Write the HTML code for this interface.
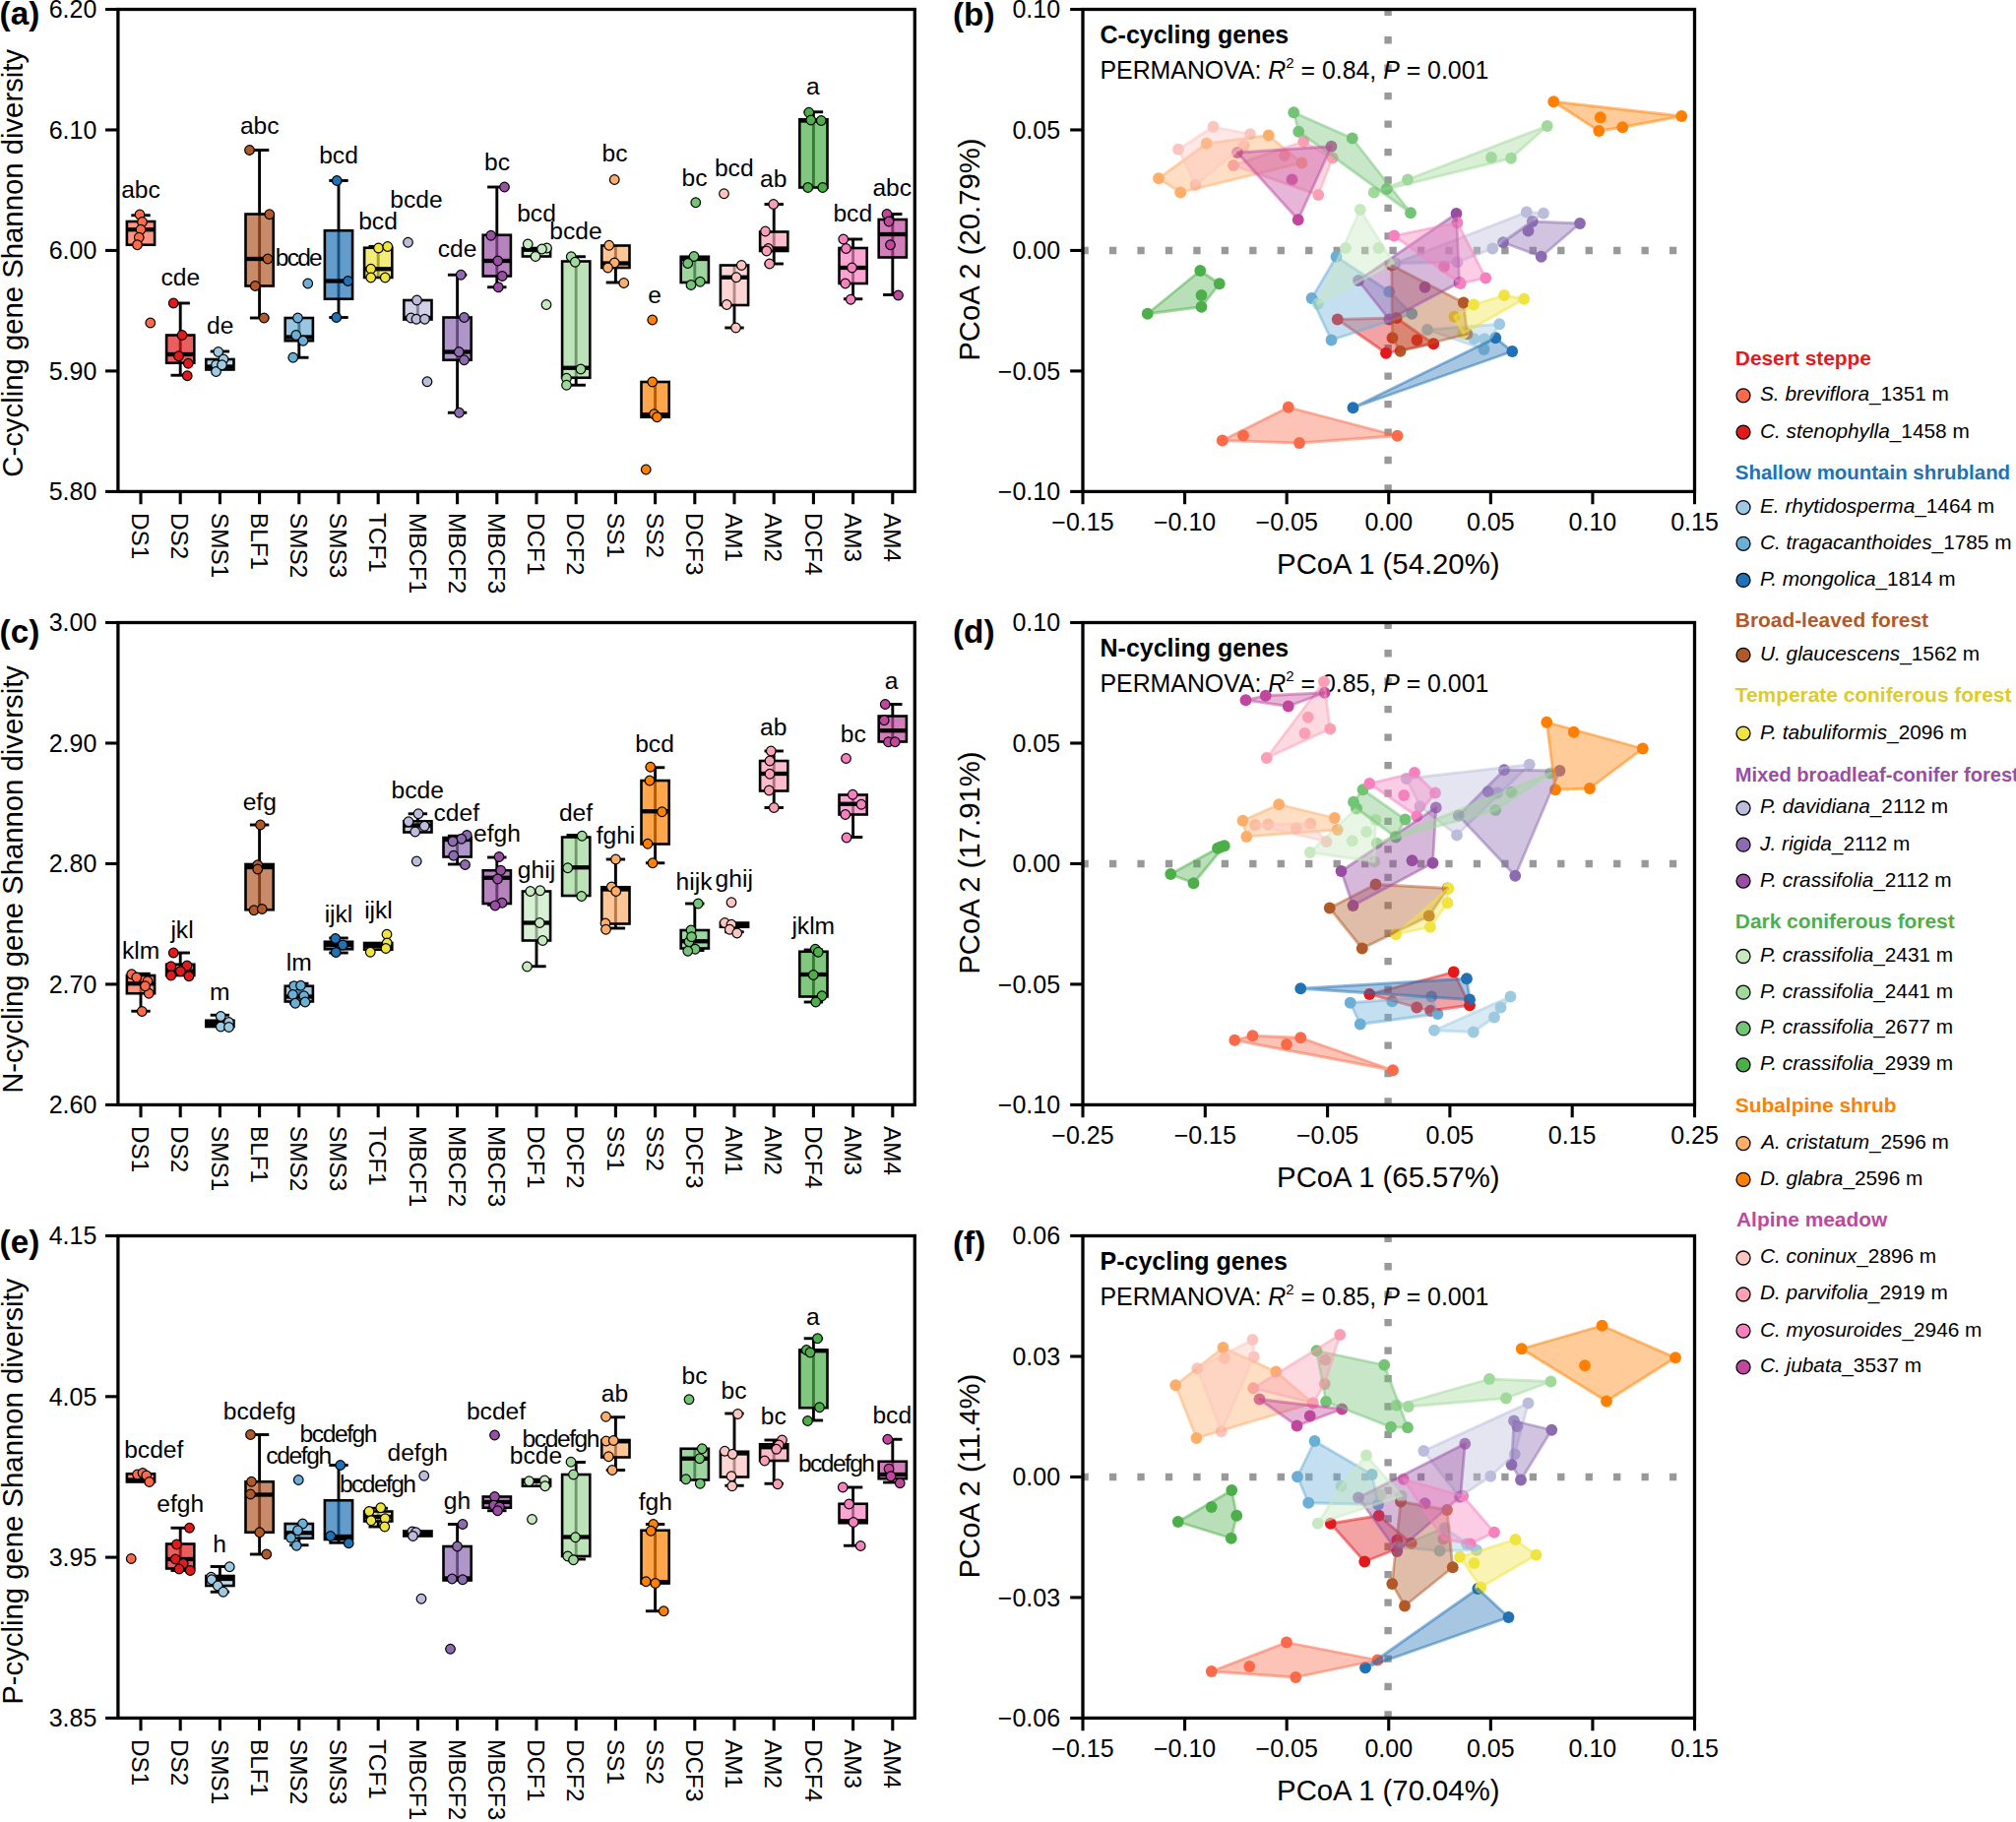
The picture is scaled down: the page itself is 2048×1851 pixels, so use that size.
<!DOCTYPE html>
<html><head><meta charset="utf-8"><title>Figure</title><style>html,body{margin:0;padding:0;background:#fff}svg{display:block}</style></head><body>
<svg width="2048" height="1851" viewBox="0 0 2048 1851" font-family="'Liberation Sans', Arial, Helvetica, sans-serif" fill="#000">
<rect width="2048" height="1851" fill="#fff"/>
<text transform="translate(23,267.3) rotate(-90)" font-size="29.3" text-anchor="middle">C-cycling gene Shannon diversity</text>
<text x="-0.4" y="25.3" font-size="33.3" font-weight="bold">(a)</text>
<line x1="107.05" x2="119.9" y1="9.5" y2="9.5" stroke="#000" stroke-width="3.1"/>
<text x="98.3" y="18.4" font-size="25" text-anchor="end">6.20</text>
<line x1="107.05" x2="119.9" y1="131.97" y2="131.97" stroke="#000" stroke-width="3.1"/>
<text x="98.3" y="140.88" font-size="25" text-anchor="end">6.10</text>
<line x1="107.05" x2="119.9" y1="254.45" y2="254.45" stroke="#000" stroke-width="3.1"/>
<text x="98.3" y="263.35" font-size="25" text-anchor="end">6.00</text>
<line x1="107.05" x2="119.9" y1="376.92" y2="376.92" stroke="#000" stroke-width="3.1"/>
<text x="98.3" y="385.82" font-size="25" text-anchor="end">5.90</text>
<line x1="107.05" x2="119.9" y1="499.4" y2="499.4" stroke="#000" stroke-width="3.1"/>
<text x="98.3" y="508.3" font-size="25" text-anchor="end">5.80</text>
<line x1="143" x2="143" y1="499.4" y2="512.25" stroke="#000" stroke-width="3.1"/>
<text transform="translate(134.2,521) rotate(90)" font-size="24.3">DS1</text>
<line x1="183.2" x2="183.2" y1="499.4" y2="512.25" stroke="#000" stroke-width="3.1"/>
<text transform="translate(174.4,521) rotate(90)" font-size="24.3">DS2</text>
<line x1="223.4" x2="223.4" y1="499.4" y2="512.25" stroke="#000" stroke-width="3.1"/>
<text transform="translate(214.6,521) rotate(90)" font-size="24.3">SMS1</text>
<line x1="263.6" x2="263.6" y1="499.4" y2="512.25" stroke="#000" stroke-width="3.1"/>
<text transform="translate(254.8,521) rotate(90)" font-size="24.3">BLF1</text>
<line x1="303.8" x2="303.8" y1="499.4" y2="512.25" stroke="#000" stroke-width="3.1"/>
<text transform="translate(295,521) rotate(90)" font-size="24.3">SMS2</text>
<line x1="344" x2="344" y1="499.4" y2="512.25" stroke="#000" stroke-width="3.1"/>
<text transform="translate(335.2,521) rotate(90)" font-size="24.3">SMS3</text>
<line x1="384.2" x2="384.2" y1="499.4" y2="512.25" stroke="#000" stroke-width="3.1"/>
<text transform="translate(375.4,521) rotate(90)" font-size="24.3">TCF1</text>
<line x1="424.4" x2="424.4" y1="499.4" y2="512.25" stroke="#000" stroke-width="3.1"/>
<text transform="translate(415.6,521) rotate(90)" font-size="24.3">MBCF1</text>
<line x1="464.6" x2="464.6" y1="499.4" y2="512.25" stroke="#000" stroke-width="3.1"/>
<text transform="translate(455.8,521) rotate(90)" font-size="24.3">MBCF2</text>
<line x1="504.8" x2="504.8" y1="499.4" y2="512.25" stroke="#000" stroke-width="3.1"/>
<text transform="translate(496,521) rotate(90)" font-size="24.3">MBCF3</text>
<line x1="545" x2="545" y1="499.4" y2="512.25" stroke="#000" stroke-width="3.1"/>
<text transform="translate(536.2,521) rotate(90)" font-size="24.3">DCF1</text>
<line x1="585.2" x2="585.2" y1="499.4" y2="512.25" stroke="#000" stroke-width="3.1"/>
<text transform="translate(576.4,521) rotate(90)" font-size="24.3">DCF2</text>
<line x1="625.4" x2="625.4" y1="499.4" y2="512.25" stroke="#000" stroke-width="3.1"/>
<text transform="translate(616.6,521) rotate(90)" font-size="24.3">SS1</text>
<line x1="665.6" x2="665.6" y1="499.4" y2="512.25" stroke="#000" stroke-width="3.1"/>
<text transform="translate(656.8,521) rotate(90)" font-size="24.3">SS2</text>
<line x1="705.8" x2="705.8" y1="499.4" y2="512.25" stroke="#000" stroke-width="3.1"/>
<text transform="translate(697,521) rotate(90)" font-size="24.3">DCF3</text>
<line x1="746" x2="746" y1="499.4" y2="512.25" stroke="#000" stroke-width="3.1"/>
<text transform="translate(737.2,521) rotate(90)" font-size="24.3">AM1</text>
<line x1="786.2" x2="786.2" y1="499.4" y2="512.25" stroke="#000" stroke-width="3.1"/>
<text transform="translate(777.4,521) rotate(90)" font-size="24.3">AM2</text>
<line x1="826.4" x2="826.4" y1="499.4" y2="512.25" stroke="#000" stroke-width="3.1"/>
<text transform="translate(817.6,521) rotate(90)" font-size="24.3">DCF4</text>
<line x1="866.6" x2="866.6" y1="499.4" y2="512.25" stroke="#000" stroke-width="3.1"/>
<text transform="translate(857.8,521) rotate(90)" font-size="24.3">AM3</text>
<line x1="906.8" x2="906.8" y1="499.4" y2="512.25" stroke="#000" stroke-width="3.1"/>
<text transform="translate(898,521) rotate(90)" font-size="24.3">AM4</text>
<path d="M143 218.75V248.75" stroke="#000" stroke-width="2.9" fill="none"/>
<path d="M133.3 218.75H152.7" stroke="#000" stroke-width="2.9" fill="none"/>
<rect x="128.9" y="225" width="28.2" height="23.75" fill="#FB6A4A" fill-opacity="0.7" stroke="#000" stroke-width="2.6"/>
<path d="M128.9 233.25H157.1" stroke="#000" stroke-width="4.3" fill="none"/>
<circle cx="142" cy="218" r="4.8" fill="#FB6A4A" stroke="#000" stroke-width="1.2"/>
<circle cx="144.5" cy="225.5" r="4.8" fill="#FB6A4A" stroke="#000" stroke-width="1.2"/>
<circle cx="143" cy="233.25" r="4.8" fill="#FB6A4A" stroke="#000" stroke-width="1.2"/>
<circle cx="141.25" cy="241.25" r="4.8" fill="#FB6A4A" stroke="#000" stroke-width="1.2"/>
<circle cx="139.5" cy="248.75" r="4.8" fill="#FB6A4A" stroke="#000" stroke-width="1.2"/>
<circle cx="152.75" cy="328" r="4.8" fill="#FB6A4A" stroke="#000" stroke-width="1.2"/>
<text x="143" y="201.25" font-size="24.6" text-anchor="middle">abc</text>
<path d="M183.2 308V381.25" stroke="#000" stroke-width="2.9" fill="none"/>
<path d="M173.5 308H192.9" stroke="#000" stroke-width="2.9" fill="none"/>
<path d="M173.5 381.25H192.9" stroke="#000" stroke-width="2.9" fill="none"/>
<rect x="169.1" y="340.5" width="28.2" height="28.25" fill="#E31A1C" fill-opacity="0.7" stroke="#000" stroke-width="2.6"/>
<path d="M169.1 360H197.3" stroke="#000" stroke-width="4.3" fill="none"/>
<circle cx="176.25" cy="308" r="4.8" fill="#E31A1C" stroke="#000" stroke-width="1.2"/>
<circle cx="185" cy="340.5" r="4.8" fill="#E31A1C" stroke="#000" stroke-width="1.2"/>
<circle cx="181.5" cy="361.75" r="4.8" fill="#E31A1C" stroke="#000" stroke-width="1.2"/>
<circle cx="191.25" cy="369.25" r="4.8" fill="#E31A1C" stroke="#000" stroke-width="1.2"/>
<circle cx="190.25" cy="381.75" r="4.8" fill="#E31A1C" stroke="#000" stroke-width="1.2"/>
<text x="183.25" y="290" font-size="24.6" text-anchor="middle">cde</text>
<path d="M223.4 357V375.5" stroke="#000" stroke-width="2.9" fill="none"/>
<path d="M213.7 357H233.1" stroke="#000" stroke-width="2.9" fill="none"/>
<rect x="209.3" y="365" width="28.2" height="10.5" fill="#9ECAE1" fill-opacity="0.7" stroke="#000" stroke-width="2.6"/>
<path d="M209.3 372.5H237.5" stroke="#000" stroke-width="4.3" fill="none"/>
<circle cx="221.75" cy="357.5" r="4.8" fill="#9ECAE1" stroke="#000" stroke-width="1.2"/>
<circle cx="227" cy="365" r="4.8" fill="#9ECAE1" stroke="#000" stroke-width="1.2"/>
<circle cx="219.5" cy="370.75" r="4.8" fill="#9ECAE1" stroke="#000" stroke-width="1.2"/>
<circle cx="219.5" cy="377.5" r="4.8" fill="#9ECAE1" stroke="#000" stroke-width="1.2"/>
<circle cx="225.5" cy="370.75" r="4.8" fill="#9ECAE1" stroke="#000" stroke-width="1.2"/>
<text x="223.75" y="338.75" font-size="24.6" text-anchor="middle">de</text>
<path d="M263.6 152.5V323" stroke="#000" stroke-width="2.9" fill="none"/>
<path d="M253.9 152.5H273.3" stroke="#000" stroke-width="2.9" fill="none"/>
<path d="M253.9 323H273.3" stroke="#000" stroke-width="2.9" fill="none"/>
<rect x="249.5" y="217.5" width="28.2" height="73" fill="#B15928" fill-opacity="0.7" stroke="#000" stroke-width="2.6"/>
<path d="M249.5 263H277.7" stroke="#000" stroke-width="4.3" fill="none"/>
<circle cx="253.5" cy="152.5" r="4.8" fill="#B15928" stroke="#000" stroke-width="1.2"/>
<circle cx="273.75" cy="217.75" r="4.8" fill="#B15928" stroke="#000" stroke-width="1.2"/>
<circle cx="272" cy="263" r="4.8" fill="#B15928" stroke="#000" stroke-width="1.2"/>
<circle cx="259.25" cy="290.5" r="4.8" fill="#B15928" stroke="#000" stroke-width="1.2"/>
<circle cx="268.25" cy="323" r="4.8" fill="#B15928" stroke="#000" stroke-width="1.2"/>
<text x="263.75" y="135.5" font-size="24.6" text-anchor="middle">abc</text>
<path d="M303.8 323V363.25" stroke="#000" stroke-width="2.9" fill="none"/>
<path d="M294.1 363.25H313.5" stroke="#000" stroke-width="2.9" fill="none"/>
<rect x="289.7" y="323" width="28.2" height="23.25" fill="#6BAED6" fill-opacity="0.7" stroke="#000" stroke-width="2.6"/>
<path d="M289.7 342.5H317.9" stroke="#000" stroke-width="4.3" fill="none"/>
<circle cx="312.75" cy="288" r="4.8" fill="#6BAED6" stroke="#000" stroke-width="1.2"/>
<circle cx="302.5" cy="323" r="4.8" fill="#6BAED6" stroke="#000" stroke-width="1.2"/>
<circle cx="300.75" cy="340.5" r="4.8" fill="#6BAED6" stroke="#000" stroke-width="1.2"/>
<circle cx="308" cy="346.25" r="4.8" fill="#6BAED6" stroke="#000" stroke-width="1.2"/>
<circle cx="297.75" cy="363.25" r="4.8" fill="#6BAED6" stroke="#000" stroke-width="1.2"/>
<text x="303.75" y="270" font-size="24.6" text-anchor="middle" textLength="48" lengthAdjust="spacing">bcde</text>
<path d="M344 183.5V322.5" stroke="#000" stroke-width="2.9" fill="none"/>
<path d="M334.3 183.5H353.7" stroke="#000" stroke-width="2.9" fill="none"/>
<path d="M334.3 322.5H353.7" stroke="#000" stroke-width="2.9" fill="none"/>
<rect x="329.9" y="234.25" width="28.2" height="69.5" fill="#2171B5" fill-opacity="0.7" stroke="#000" stroke-width="2.6"/>
<path d="M329.9 285.5H358.1" stroke="#000" stroke-width="4.3" fill="none"/>
<circle cx="342.25" cy="183.5" r="4.8" fill="#2171B5" stroke="#000" stroke-width="1.2"/>
<circle cx="353.5" cy="285.5" r="4.8" fill="#2171B5" stroke="#000" stroke-width="1.2"/>
<circle cx="341.75" cy="322.5" r="4.8" fill="#2171B5" stroke="#000" stroke-width="1.2"/>
<text x="344" y="166.25" font-size="24.6" text-anchor="middle">bcd</text>
<path d="M384.2 250.5V282" stroke="#000" stroke-width="2.9" fill="none"/>
<path d="M374.5 250.5H393.9" stroke="#000" stroke-width="2.9" fill="none"/>
<rect x="370.1" y="251.75" width="28.2" height="30.25" fill="#F0E442" fill-opacity="0.7" stroke="#000" stroke-width="2.6"/>
<path d="M370.1 273.25H398.3" stroke="#000" stroke-width="4.3" fill="none"/>
<circle cx="384.5" cy="252" r="4.8" fill="#F0E442" stroke="#000" stroke-width="1.2"/>
<circle cx="393.75" cy="250.5" r="4.8" fill="#F0E442" stroke="#000" stroke-width="1.2"/>
<circle cx="376.75" cy="273.25" r="4.8" fill="#F0E442" stroke="#000" stroke-width="1.2"/>
<circle cx="376.75" cy="282" r="4.8" fill="#F0E442" stroke="#000" stroke-width="1.2"/>
<circle cx="391.25" cy="282" r="4.8" fill="#F0E442" stroke="#000" stroke-width="1.2"/>
<text x="384" y="232.5" font-size="24.6" text-anchor="middle">bcd</text>
<path d="M424.4 305V324.5" stroke="#000" stroke-width="2.9" fill="none"/>
<rect x="410.3" y="305" width="28.2" height="19.5" fill="#BCBDDC" fill-opacity="0.7" stroke="#000" stroke-width="2.6"/>
<path d="M410.3 323H438.5" stroke="#000" stroke-width="4.3" fill="none"/>
<circle cx="414.5" cy="246.25" r="4.8" fill="#BCBDDC" stroke="#000" stroke-width="1.2"/>
<circle cx="423.5" cy="305" r="4.8" fill="#BCBDDC" stroke="#000" stroke-width="1.2"/>
<circle cx="417.5" cy="323" r="4.8" fill="#BCBDDC" stroke="#000" stroke-width="1.2"/>
<circle cx="423" cy="324.25" r="4.8" fill="#BCBDDC" stroke="#000" stroke-width="1.2"/>
<circle cx="431.5" cy="324.25" r="4.8" fill="#BCBDDC" stroke="#000" stroke-width="1.2"/>
<circle cx="434" cy="387.75" r="4.8" fill="#BCBDDC" stroke="#000" stroke-width="1.2"/>
<text x="423" y="210.5" font-size="24.6" text-anchor="middle">bcde</text>
<path d="M464.6 279.25V419.25" stroke="#000" stroke-width="2.9" fill="none"/>
<path d="M454.9 279.25H474.3" stroke="#000" stroke-width="2.9" fill="none"/>
<path d="M454.9 419.25H474.3" stroke="#000" stroke-width="2.9" fill="none"/>
<rect x="450.5" y="322.5" width="28.2" height="43.25" fill="#8C6BB1" fill-opacity="0.7" stroke="#000" stroke-width="2.6"/>
<path d="M450.5 357.5H478.7" stroke="#000" stroke-width="4.3" fill="none"/>
<circle cx="468.25" cy="279.25" r="4.8" fill="#8C6BB1" stroke="#000" stroke-width="1.2"/>
<circle cx="471.5" cy="322.5" r="4.8" fill="#8C6BB1" stroke="#000" stroke-width="1.2"/>
<circle cx="466.25" cy="357.5" r="4.8" fill="#8C6BB1" stroke="#000" stroke-width="1.2"/>
<circle cx="471.5" cy="365.75" r="4.8" fill="#8C6BB1" stroke="#000" stroke-width="1.2"/>
<circle cx="466.5" cy="419.25" r="4.8" fill="#8C6BB1" stroke="#000" stroke-width="1.2"/>
<text x="464.5" y="261.25" font-size="24.6" text-anchor="middle">cde</text>
<path d="M504.8 190V291.75" stroke="#000" stroke-width="2.9" fill="none"/>
<path d="M495.1 190H514.5" stroke="#000" stroke-width="2.9" fill="none"/>
<path d="M495.1 291.75H514.5" stroke="#000" stroke-width="2.9" fill="none"/>
<rect x="490.7" y="238.75" width="28.2" height="41.75" fill="#984EA3" fill-opacity="0.7" stroke="#000" stroke-width="2.6"/>
<path d="M490.7 265H518.9" stroke="#000" stroke-width="4.3" fill="none"/>
<circle cx="512.5" cy="190" r="4.8" fill="#984EA3" stroke="#000" stroke-width="1.2"/>
<circle cx="498.75" cy="239.25" r="4.8" fill="#984EA3" stroke="#000" stroke-width="1.2"/>
<circle cx="505.75" cy="265" r="4.8" fill="#984EA3" stroke="#000" stroke-width="1.2"/>
<circle cx="510.25" cy="280.5" r="4.8" fill="#984EA3" stroke="#000" stroke-width="1.2"/>
<circle cx="506.25" cy="291.75" r="4.8" fill="#984EA3" stroke="#000" stroke-width="1.2"/>
<text x="505" y="172.5" font-size="24.6" text-anchor="middle">bc</text>
<path d="M545 252V260.5" stroke="#000" stroke-width="2.9" fill="none"/>
<rect x="530.9" y="252" width="28.2" height="8.5" fill="#C7E9C0" fill-opacity="0.7" stroke="#000" stroke-width="2.6"/>
<path d="M530.9 253.75H559.1" stroke="#000" stroke-width="4.3" fill="none"/>
<circle cx="536.25" cy="248" r="4.8" fill="#C7E9C0" stroke="#000" stroke-width="1.2"/>
<circle cx="555.5" cy="252" r="4.8" fill="#C7E9C0" stroke="#000" stroke-width="1.2"/>
<circle cx="550.5" cy="253" r="4.8" fill="#C7E9C0" stroke="#000" stroke-width="1.2"/>
<circle cx="544" cy="260.5" r="4.8" fill="#C7E9C0" stroke="#000" stroke-width="1.2"/>
<circle cx="555" cy="309.5" r="4.8" fill="#C7E9C0" stroke="#000" stroke-width="1.2"/>
<text x="545" y="224.5" font-size="24.6" text-anchor="middle">bcd</text>
<path d="M585.2 260.75V391.25" stroke="#000" stroke-width="2.9" fill="none"/>
<path d="M575.5 260.75H594.9" stroke="#000" stroke-width="2.9" fill="none"/>
<path d="M575.5 391.25H594.9" stroke="#000" stroke-width="2.9" fill="none"/>
<rect x="571.1" y="265.5" width="28.2" height="118.25" fill="#A1D99B" fill-opacity="0.7" stroke="#000" stroke-width="2.6"/>
<path d="M571.1 373.75H599.3" stroke="#000" stroke-width="4.3" fill="none"/>
<circle cx="580.25" cy="260.75" r="4.8" fill="#A1D99B" stroke="#000" stroke-width="1.2"/>
<circle cx="584.25" cy="266.25" r="4.8" fill="#A1D99B" stroke="#000" stroke-width="1.2"/>
<circle cx="590" cy="375" r="4.8" fill="#A1D99B" stroke="#000" stroke-width="1.2"/>
<circle cx="575.5" cy="384.25" r="4.8" fill="#A1D99B" stroke="#000" stroke-width="1.2"/>
<circle cx="575.5" cy="391.25" r="4.8" fill="#A1D99B" stroke="#000" stroke-width="1.2"/>
<text x="585" y="243" font-size="24.6" text-anchor="middle">bcde</text>
<path d="M625.4 249.5V287" stroke="#000" stroke-width="2.9" fill="none"/>
<path d="M615.7 287H635.1" stroke="#000" stroke-width="2.9" fill="none"/>
<rect x="611.3" y="249.5" width="28.2" height="22.5" fill="#FDAE6B" fill-opacity="0.7" stroke="#000" stroke-width="2.6"/>
<path d="M611.3 267.5H639.5" stroke="#000" stroke-width="4.3" fill="none"/>
<circle cx="624.25" cy="182.5" r="4.8" fill="#FDAE6B" stroke="#000" stroke-width="1.2"/>
<circle cx="618.75" cy="249.25" r="4.8" fill="#FDAE6B" stroke="#000" stroke-width="1.2"/>
<circle cx="624.25" cy="267" r="4.8" fill="#FDAE6B" stroke="#000" stroke-width="1.2"/>
<circle cx="617.5" cy="272" r="4.8" fill="#FDAE6B" stroke="#000" stroke-width="1.2"/>
<circle cx="633.75" cy="287.5" r="4.8" fill="#FDAE6B" stroke="#000" stroke-width="1.2"/>
<text x="624.5" y="164.25" font-size="24.6" text-anchor="middle">bc</text>
<path d="M665.6 388V423.75" stroke="#000" stroke-width="2.9" fill="none"/>
<rect x="651.5" y="388" width="28.2" height="35.75" fill="#FF7F00" fill-opacity="0.7" stroke="#000" stroke-width="2.6"/>
<path d="M651.5 421.25H679.7" stroke="#000" stroke-width="4.3" fill="none"/>
<circle cx="662.75" cy="325" r="4.8" fill="#FF7F00" stroke="#000" stroke-width="1.2"/>
<circle cx="662.75" cy="388" r="4.8" fill="#FF7F00" stroke="#000" stroke-width="1.2"/>
<circle cx="664.5" cy="420.75" r="4.8" fill="#FF7F00" stroke="#000" stroke-width="1.2"/>
<circle cx="667.5" cy="423.75" r="4.8" fill="#FF7F00" stroke="#000" stroke-width="1.2"/>
<circle cx="656.25" cy="477" r="4.8" fill="#FF7F00" stroke="#000" stroke-width="1.2"/>
<text x="665" y="307.5" font-size="24.6" text-anchor="middle">e</text>
<path d="M705.8 260.75V287" stroke="#000" stroke-width="2.9" fill="none"/>
<rect x="691.7" y="260.75" width="28.2" height="26.25" fill="#74C476" fill-opacity="0.7" stroke="#000" stroke-width="2.6"/>
<path d="M691.7 263H719.9" stroke="#000" stroke-width="4.3" fill="none"/>
<circle cx="706.75" cy="205.75" r="4.8" fill="#74C476" stroke="#000" stroke-width="1.2"/>
<circle cx="705" cy="260.5" r="4.8" fill="#74C476" stroke="#000" stroke-width="1.2"/>
<circle cx="698.75" cy="267.5" r="4.8" fill="#74C476" stroke="#000" stroke-width="1.2"/>
<circle cx="711.25" cy="286.25" r="4.8" fill="#74C476" stroke="#000" stroke-width="1.2"/>
<circle cx="702" cy="289.5" r="4.8" fill="#74C476" stroke="#000" stroke-width="1.2"/>
<text x="705.5" y="188.75" font-size="24.6" text-anchor="middle">bc</text>
<path d="M746 269.5V333" stroke="#000" stroke-width="2.9" fill="none"/>
<path d="M736.3 333H755.7" stroke="#000" stroke-width="2.9" fill="none"/>
<rect x="731.9" y="269.5" width="28.2" height="40.5" fill="#FCC5C0" fill-opacity="0.7" stroke="#000" stroke-width="2.6"/>
<path d="M731.9 281.75H760.1" stroke="#000" stroke-width="4.3" fill="none"/>
<circle cx="735.5" cy="196.75" r="4.8" fill="#FCC5C0" stroke="#000" stroke-width="1.2"/>
<circle cx="753.25" cy="269.5" r="4.8" fill="#FCC5C0" stroke="#000" stroke-width="1.2"/>
<circle cx="748" cy="281.75" r="4.8" fill="#FCC5C0" stroke="#000" stroke-width="1.2"/>
<circle cx="738.25" cy="309.5" r="4.8" fill="#FCC5C0" stroke="#000" stroke-width="1.2"/>
<circle cx="747.5" cy="333" r="4.8" fill="#FCC5C0" stroke="#000" stroke-width="1.2"/>
<text x="745.75" y="178.75" font-size="24.6" text-anchor="middle">bcd</text>
<path d="M786.2 207.5V268" stroke="#000" stroke-width="2.9" fill="none"/>
<path d="M776.5 207.5H795.9" stroke="#000" stroke-width="2.9" fill="none"/>
<path d="M776.5 268H795.9" stroke="#000" stroke-width="2.9" fill="none"/>
<rect x="772.1" y="235.5" width="28.2" height="19.5" fill="#FA9FB5" fill-opacity="0.7" stroke="#000" stroke-width="2.6"/>
<path d="M772.1 252.5H800.3" stroke="#000" stroke-width="4.3" fill="none"/>
<circle cx="785.75" cy="207.5" r="4.8" fill="#FA9FB5" stroke="#000" stroke-width="1.2"/>
<circle cx="777.5" cy="235" r="4.8" fill="#FA9FB5" stroke="#000" stroke-width="1.2"/>
<circle cx="780.5" cy="252.5" r="4.8" fill="#FA9FB5" stroke="#000" stroke-width="1.2"/>
<circle cx="778.75" cy="255" r="4.8" fill="#FA9FB5" stroke="#000" stroke-width="1.2"/>
<circle cx="781.75" cy="268" r="4.8" fill="#FA9FB5" stroke="#000" stroke-width="1.2"/>
<text x="785.75" y="190" font-size="24.6" text-anchor="middle">ab</text>
<path d="M826.4 113.75V190.5" stroke="#000" stroke-width="2.9" fill="none"/>
<path d="M816.7 113.75H836.1" stroke="#000" stroke-width="2.9" fill="none"/>
<rect x="812.3" y="121.25" width="28.2" height="69.25" fill="#4DAF4A" fill-opacity="0.7" stroke="#000" stroke-width="2.6"/>
<path d="M812.3 122.5H840.5" stroke="#000" stroke-width="4.3" fill="none"/>
<circle cx="821.75" cy="114.25" r="4.8" fill="#4DAF4A" stroke="#000" stroke-width="1.2"/>
<circle cx="823.75" cy="122" r="4.8" fill="#4DAF4A" stroke="#000" stroke-width="1.2"/>
<circle cx="834.25" cy="122.5" r="4.8" fill="#4DAF4A" stroke="#000" stroke-width="1.2"/>
<circle cx="820.75" cy="190.5" r="4.8" fill="#4DAF4A" stroke="#000" stroke-width="1.2"/>
<circle cx="835.75" cy="190.5" r="4.8" fill="#4DAF4A" stroke="#000" stroke-width="1.2"/>
<text x="825.75" y="96.25" font-size="24.6" text-anchor="middle">a</text>
<path d="M866.6 243V303.75" stroke="#000" stroke-width="2.9" fill="none"/>
<path d="M856.9 243H876.3" stroke="#000" stroke-width="2.9" fill="none"/>
<path d="M856.9 303.75H876.3" stroke="#000" stroke-width="2.9" fill="none"/>
<rect x="852.5" y="252" width="28.2" height="36" fill="#F781BF" fill-opacity="0.7" stroke="#000" stroke-width="2.6"/>
<path d="M852.5 272H880.7" stroke="#000" stroke-width="4.3" fill="none"/>
<circle cx="856.75" cy="243" r="4.8" fill="#F781BF" stroke="#000" stroke-width="1.2"/>
<circle cx="859.5" cy="252.5" r="4.8" fill="#F781BF" stroke="#000" stroke-width="1.2"/>
<circle cx="865.5" cy="272" r="4.8" fill="#F781BF" stroke="#000" stroke-width="1.2"/>
<circle cx="858.75" cy="288" r="4.8" fill="#F781BF" stroke="#000" stroke-width="1.2"/>
<circle cx="864.25" cy="304.25" r="4.8" fill="#F781BF" stroke="#000" stroke-width="1.2"/>
<text x="866.25" y="225" font-size="24.6" text-anchor="middle">bcd</text>
<path d="M906.8 217.5V299.5" stroke="#000" stroke-width="2.9" fill="none"/>
<path d="M897.1 217.5H916.5" stroke="#000" stroke-width="2.9" fill="none"/>
<path d="M897.1 299.5H916.5" stroke="#000" stroke-width="2.9" fill="none"/>
<rect x="892.7" y="223" width="28.2" height="38.5" fill="#C0479D" fill-opacity="0.7" stroke="#000" stroke-width="2.6"/>
<path d="M892.7 238H920.9" stroke="#000" stroke-width="4.3" fill="none"/>
<circle cx="901" cy="217.5" r="4.8" fill="#C0479D" stroke="#000" stroke-width="1.2"/>
<circle cx="903" cy="225" r="4.8" fill="#C0479D" stroke="#000" stroke-width="1.2"/>
<circle cx="904.5" cy="248.75" r="4.8" fill="#C0479D" stroke="#000" stroke-width="1.2"/>
<circle cx="912.5" cy="300" r="4.8" fill="#C0479D" stroke="#000" stroke-width="1.2"/>
<text x="906.25" y="198.75" font-size="24.6" text-anchor="middle">abc</text>
<rect x="119.9" y="9.5" width="809.4" height="489.9" fill="none" stroke="#000" stroke-width="3.3"/>
<text transform="translate(23,893.4) rotate(-90)" font-size="29.3" text-anchor="middle">N-cycling gene Shannon diversity</text>
<text x="-0.4" y="653.4" font-size="33.3" font-weight="bold">(c)</text>
<line x1="107.05" x2="119.9" y1="632.5" y2="632.5" stroke="#000" stroke-width="3.1"/>
<text x="98.3" y="641.4" font-size="25" text-anchor="end">3.00</text>
<line x1="107.05" x2="119.9" y1="754.98" y2="754.98" stroke="#000" stroke-width="3.1"/>
<text x="98.3" y="763.88" font-size="25" text-anchor="end">2.90</text>
<line x1="107.05" x2="119.9" y1="877.45" y2="877.45" stroke="#000" stroke-width="3.1"/>
<text x="98.3" y="886.35" font-size="25" text-anchor="end">2.80</text>
<line x1="107.05" x2="119.9" y1="999.92" y2="999.92" stroke="#000" stroke-width="3.1"/>
<text x="98.3" y="1008.82" font-size="25" text-anchor="end">2.70</text>
<line x1="107.05" x2="119.9" y1="1122.4" y2="1122.4" stroke="#000" stroke-width="3.1"/>
<text x="98.3" y="1131.3" font-size="25" text-anchor="end">2.60</text>
<line x1="143" x2="143" y1="1122.4" y2="1135.25" stroke="#000" stroke-width="3.1"/>
<text transform="translate(134.2,1144) rotate(90)" font-size="24.3">DS1</text>
<line x1="183.2" x2="183.2" y1="1122.4" y2="1135.25" stroke="#000" stroke-width="3.1"/>
<text transform="translate(174.4,1144) rotate(90)" font-size="24.3">DS2</text>
<line x1="223.4" x2="223.4" y1="1122.4" y2="1135.25" stroke="#000" stroke-width="3.1"/>
<text transform="translate(214.6,1144) rotate(90)" font-size="24.3">SMS1</text>
<line x1="263.6" x2="263.6" y1="1122.4" y2="1135.25" stroke="#000" stroke-width="3.1"/>
<text transform="translate(254.8,1144) rotate(90)" font-size="24.3">BLF1</text>
<line x1="303.8" x2="303.8" y1="1122.4" y2="1135.25" stroke="#000" stroke-width="3.1"/>
<text transform="translate(295,1144) rotate(90)" font-size="24.3">SMS2</text>
<line x1="344" x2="344" y1="1122.4" y2="1135.25" stroke="#000" stroke-width="3.1"/>
<text transform="translate(335.2,1144) rotate(90)" font-size="24.3">SMS3</text>
<line x1="384.2" x2="384.2" y1="1122.4" y2="1135.25" stroke="#000" stroke-width="3.1"/>
<text transform="translate(375.4,1144) rotate(90)" font-size="24.3">TCF1</text>
<line x1="424.4" x2="424.4" y1="1122.4" y2="1135.25" stroke="#000" stroke-width="3.1"/>
<text transform="translate(415.6,1144) rotate(90)" font-size="24.3">MBCF1</text>
<line x1="464.6" x2="464.6" y1="1122.4" y2="1135.25" stroke="#000" stroke-width="3.1"/>
<text transform="translate(455.8,1144) rotate(90)" font-size="24.3">MBCF2</text>
<line x1="504.8" x2="504.8" y1="1122.4" y2="1135.25" stroke="#000" stroke-width="3.1"/>
<text transform="translate(496,1144) rotate(90)" font-size="24.3">MBCF3</text>
<line x1="545" x2="545" y1="1122.4" y2="1135.25" stroke="#000" stroke-width="3.1"/>
<text transform="translate(536.2,1144) rotate(90)" font-size="24.3">DCF1</text>
<line x1="585.2" x2="585.2" y1="1122.4" y2="1135.25" stroke="#000" stroke-width="3.1"/>
<text transform="translate(576.4,1144) rotate(90)" font-size="24.3">DCF2</text>
<line x1="625.4" x2="625.4" y1="1122.4" y2="1135.25" stroke="#000" stroke-width="3.1"/>
<text transform="translate(616.6,1144) rotate(90)" font-size="24.3">SS1</text>
<line x1="665.6" x2="665.6" y1="1122.4" y2="1135.25" stroke="#000" stroke-width="3.1"/>
<text transform="translate(656.8,1144) rotate(90)" font-size="24.3">SS2</text>
<line x1="705.8" x2="705.8" y1="1122.4" y2="1135.25" stroke="#000" stroke-width="3.1"/>
<text transform="translate(697,1144) rotate(90)" font-size="24.3">DCF3</text>
<line x1="746" x2="746" y1="1122.4" y2="1135.25" stroke="#000" stroke-width="3.1"/>
<text transform="translate(737.2,1144) rotate(90)" font-size="24.3">AM1</text>
<line x1="786.2" x2="786.2" y1="1122.4" y2="1135.25" stroke="#000" stroke-width="3.1"/>
<text transform="translate(777.4,1144) rotate(90)" font-size="24.3">AM2</text>
<line x1="826.4" x2="826.4" y1="1122.4" y2="1135.25" stroke="#000" stroke-width="3.1"/>
<text transform="translate(817.6,1144) rotate(90)" font-size="24.3">DCF4</text>
<line x1="866.6" x2="866.6" y1="1122.4" y2="1135.25" stroke="#000" stroke-width="3.1"/>
<text transform="translate(857.8,1144) rotate(90)" font-size="24.3">AM3</text>
<line x1="906.8" x2="906.8" y1="1122.4" y2="1135.25" stroke="#000" stroke-width="3.1"/>
<text transform="translate(898,1144) rotate(90)" font-size="24.3">AM4</text>
<path d="M143 989.25V1027.25" stroke="#000" stroke-width="2.9" fill="none"/>
<path d="M133.3 989.25H152.7" stroke="#000" stroke-width="2.9" fill="none"/>
<path d="M133.3 1027.25H152.7" stroke="#000" stroke-width="2.9" fill="none"/>
<rect x="128.9" y="991" width="28.2" height="18.25" fill="#FB6A4A" fill-opacity="0.7" stroke="#000" stroke-width="2.6"/>
<path d="M128.9 999.25H157.1" stroke="#000" stroke-width="4.3" fill="none"/>
<circle cx="133.75" cy="989.75" r="4.8" fill="#FB6A4A" stroke="#000" stroke-width="1.2"/>
<circle cx="138.75" cy="993" r="4.8" fill="#FB6A4A" stroke="#000" stroke-width="1.2"/>
<circle cx="150" cy="996.75" r="4.8" fill="#FB6A4A" stroke="#000" stroke-width="1.2"/>
<circle cx="151.25" cy="1009.25" r="4.8" fill="#FB6A4A" stroke="#000" stroke-width="1.2"/>
<circle cx="144.25" cy="1027.5" r="4.8" fill="#FB6A4A" stroke="#000" stroke-width="1.2"/>
<circle cx="147.5" cy="1001.75" r="4.8" fill="#FB6A4A" stroke="#000" stroke-width="1.2"/>
<text x="143" y="974.25" font-size="24.6" text-anchor="middle">klm</text>
<path d="M183.2 968V991" stroke="#000" stroke-width="2.9" fill="none"/>
<path d="M173.5 968H192.9" stroke="#000" stroke-width="2.9" fill="none"/>
<rect x="169.1" y="979.75" width="28.2" height="11.25" fill="#E31A1C" fill-opacity="0.7" stroke="#000" stroke-width="2.6"/>
<path d="M169.1 986.75H197.3" stroke="#000" stroke-width="4.3" fill="none"/>
<circle cx="176.25" cy="968" r="4.8" fill="#E31A1C" stroke="#000" stroke-width="1.2"/>
<circle cx="173.75" cy="981.75" r="4.8" fill="#E31A1C" stroke="#000" stroke-width="1.2"/>
<circle cx="190" cy="981" r="4.8" fill="#E31A1C" stroke="#000" stroke-width="1.2"/>
<circle cx="173.75" cy="991" r="4.8" fill="#E31A1C" stroke="#000" stroke-width="1.2"/>
<circle cx="192" cy="991.75" r="4.8" fill="#E31A1C" stroke="#000" stroke-width="1.2"/>
<circle cx="183.25" cy="986.75" r="4.8" fill="#E31A1C" stroke="#000" stroke-width="1.2"/>
<text x="185" y="953" font-size="24.6" text-anchor="middle">jkl</text>
<path d="M223.4 1031.25V1043" stroke="#000" stroke-width="2.9" fill="none"/>
<path d="M213.7 1031.25H233.1" stroke="#000" stroke-width="2.9" fill="none"/>
<rect x="209.3" y="1036.75" width="28.2" height="6.25" fill="#9ECAE1" fill-opacity="0.7" stroke="#000" stroke-width="2.6"/>
<path d="M209.3 1040H237.5" stroke="#000" stroke-width="4.3" fill="none"/>
<circle cx="224.25" cy="1032.5" r="4.8" fill="#9ECAE1" stroke="#000" stroke-width="1.2"/>
<circle cx="232.5" cy="1038.5" r="4.8" fill="#9ECAE1" stroke="#000" stroke-width="1.2"/>
<circle cx="224.25" cy="1043" r="4.8" fill="#9ECAE1" stroke="#000" stroke-width="1.2"/>
<circle cx="232.5" cy="1043.5" r="4.8" fill="#9ECAE1" stroke="#000" stroke-width="1.2"/>
<text x="223.25" y="1016.25" font-size="24.6" text-anchor="middle">m</text>
<path d="M263.6 838V924.25" stroke="#000" stroke-width="2.9" fill="none"/>
<path d="M253.9 838H273.3" stroke="#000" stroke-width="2.9" fill="none"/>
<rect x="249.5" y="878" width="28.2" height="46.25" fill="#B15928" fill-opacity="0.7" stroke="#000" stroke-width="2.6"/>
<path d="M249.5 881H277.7" stroke="#000" stroke-width="4.3" fill="none"/>
<circle cx="264.5" cy="838" r="4.8" fill="#B15928" stroke="#000" stroke-width="1.2"/>
<circle cx="261.75" cy="878.75" r="4.8" fill="#B15928" stroke="#000" stroke-width="1.2"/>
<circle cx="261.75" cy="883" r="4.8" fill="#B15928" stroke="#000" stroke-width="1.2"/>
<circle cx="258" cy="924.75" r="4.8" fill="#B15928" stroke="#000" stroke-width="1.2"/>
<circle cx="266.25" cy="923.5" r="4.8" fill="#B15928" stroke="#000" stroke-width="1.2"/>
<text x="263.75" y="822.5" font-size="24.6" text-anchor="middle">efg</text>
<path d="M303.8 999.25V1019.25" stroke="#000" stroke-width="2.9" fill="none"/>
<path d="M294.1 999.25H313.5" stroke="#000" stroke-width="2.9" fill="none"/>
<path d="M294.1 1019.25H313.5" stroke="#000" stroke-width="2.9" fill="none"/>
<rect x="289.7" y="1001.75" width="28.2" height="15.75" fill="#6BAED6" fill-opacity="0.7" stroke="#000" stroke-width="2.6"/>
<path d="M289.7 1012.5H317.9" stroke="#000" stroke-width="4.3" fill="none"/>
<circle cx="298.75" cy="1001.75" r="4.8" fill="#6BAED6" stroke="#000" stroke-width="1.2"/>
<circle cx="305.5" cy="1001.25" r="4.8" fill="#6BAED6" stroke="#000" stroke-width="1.2"/>
<circle cx="297.5" cy="1010.5" r="4.8" fill="#6BAED6" stroke="#000" stroke-width="1.2"/>
<circle cx="308.75" cy="1011.75" r="4.8" fill="#6BAED6" stroke="#000" stroke-width="1.2"/>
<circle cx="300" cy="1019.25" r="4.8" fill="#6BAED6" stroke="#000" stroke-width="1.2"/>
<circle cx="310" cy="1018" r="4.8" fill="#6BAED6" stroke="#000" stroke-width="1.2"/>
<text x="303.75" y="985.5" font-size="24.6" text-anchor="middle">lm</text>
<path d="M344 953V968" stroke="#000" stroke-width="2.9" fill="none"/>
<path d="M334.3 953H353.7" stroke="#000" stroke-width="2.9" fill="none"/>
<path d="M334.3 968H353.7" stroke="#000" stroke-width="2.9" fill="none"/>
<rect x="329.9" y="956.75" width="28.2" height="7.5" fill="#2171B5" fill-opacity="0.7" stroke="#000" stroke-width="2.6"/>
<path d="M329.9 960H358.1" stroke="#000" stroke-width="4.3" fill="none"/>
<circle cx="340.75" cy="953.5" r="4.8" fill="#2171B5" stroke="#000" stroke-width="1.2"/>
<circle cx="348.25" cy="960" r="4.8" fill="#2171B5" stroke="#000" stroke-width="1.2"/>
<circle cx="341.25" cy="967.5" r="4.8" fill="#2171B5" stroke="#000" stroke-width="1.2"/>
<text x="344" y="936.75" font-size="24.6" text-anchor="middle">ijkl</text>
<path d="M384.2 958V964.75" stroke="#000" stroke-width="2.9" fill="none"/>
<rect x="370.1" y="958" width="28.2" height="6.75" fill="#F0E442" fill-opacity="0.7" stroke="#000" stroke-width="2.6"/>
<path d="M370.1 961H398.3" stroke="#000" stroke-width="4.3" fill="none"/>
<circle cx="393" cy="949.25" r="4.8" fill="#F0E442" stroke="#000" stroke-width="1.2"/>
<circle cx="393.25" cy="958" r="4.8" fill="#F0E442" stroke="#000" stroke-width="1.2"/>
<circle cx="392" cy="963.5" r="4.8" fill="#F0E442" stroke="#000" stroke-width="1.2"/>
<circle cx="376.25" cy="967.25" r="4.8" fill="#F0E442" stroke="#000" stroke-width="1.2"/>
<text x="384.5" y="933" font-size="24.6" text-anchor="middle">ijkl</text>
<path d="M424.4 826.75V845.5" stroke="#000" stroke-width="2.9" fill="none"/>
<path d="M414.7 826.75H434.1" stroke="#000" stroke-width="2.9" fill="none"/>
<rect x="410.3" y="834.25" width="28.2" height="11.25" fill="#BCBDDC" fill-opacity="0.7" stroke="#000" stroke-width="2.6"/>
<path d="M410.3 838.5H438.5" stroke="#000" stroke-width="4.3" fill="none"/>
<circle cx="425" cy="826.75" r="4.8" fill="#BCBDDC" stroke="#000" stroke-width="1.2"/>
<circle cx="415" cy="834.75" r="4.8" fill="#BCBDDC" stroke="#000" stroke-width="1.2"/>
<circle cx="431.25" cy="839.25" r="4.8" fill="#BCBDDC" stroke="#000" stroke-width="1.2"/>
<circle cx="421.75" cy="845" r="4.8" fill="#BCBDDC" stroke="#000" stroke-width="1.2"/>
<circle cx="423.25" cy="875" r="4.8" fill="#BCBDDC" stroke="#000" stroke-width="1.2"/>
<text x="424.25" y="811.25" font-size="24.6" text-anchor="middle">bcde</text>
<path d="M464.6 849.25V878" stroke="#000" stroke-width="2.9" fill="none"/>
<path d="M454.9 849.25H474.3" stroke="#000" stroke-width="2.9" fill="none"/>
<path d="M454.9 878H474.3" stroke="#000" stroke-width="2.9" fill="none"/>
<rect x="450.5" y="851" width="28.2" height="19.5" fill="#8C6BB1" fill-opacity="0.7" stroke="#000" stroke-width="2.6"/>
<path d="M450.5 853H478.7" stroke="#000" stroke-width="4.3" fill="none"/>
<circle cx="474.25" cy="848.5" r="4.8" fill="#8C6BB1" stroke="#000" stroke-width="1.2"/>
<circle cx="468.75" cy="852.25" r="4.8" fill="#8C6BB1" stroke="#000" stroke-width="1.2"/>
<circle cx="460" cy="854.75" r="4.8" fill="#8C6BB1" stroke="#000" stroke-width="1.2"/>
<circle cx="460.75" cy="869.25" r="4.8" fill="#8C6BB1" stroke="#000" stroke-width="1.2"/>
<circle cx="472.5" cy="878.5" r="4.8" fill="#8C6BB1" stroke="#000" stroke-width="1.2"/>
<text x="463.75" y="833.5" font-size="24.6" text-anchor="middle">cdef</text>
<path d="M504.8 871V919.25" stroke="#000" stroke-width="2.9" fill="none"/>
<path d="M495.1 871H514.5" stroke="#000" stroke-width="2.9" fill="none"/>
<path d="M495.1 919.25H514.5" stroke="#000" stroke-width="2.9" fill="none"/>
<rect x="490.7" y="884.25" width="28.2" height="33.75" fill="#984EA3" fill-opacity="0.7" stroke="#000" stroke-width="2.6"/>
<path d="M490.7 891.75H518.9" stroke="#000" stroke-width="4.3" fill="none"/>
<circle cx="507" cy="870.5" r="4.8" fill="#984EA3" stroke="#000" stroke-width="1.2"/>
<circle cx="508.75" cy="884.25" r="4.8" fill="#984EA3" stroke="#000" stroke-width="1.2"/>
<circle cx="505.5" cy="893" r="4.8" fill="#984EA3" stroke="#000" stroke-width="1.2"/>
<circle cx="510" cy="917.25" r="4.8" fill="#984EA3" stroke="#000" stroke-width="1.2"/>
<circle cx="503" cy="920" r="4.8" fill="#984EA3" stroke="#000" stroke-width="1.2"/>
<text x="505" y="855" font-size="24.6" text-anchor="middle">efgh</text>
<path d="M545 905.5V981.75" stroke="#000" stroke-width="2.9" fill="none"/>
<path d="M535.3 981.75H554.7" stroke="#000" stroke-width="2.9" fill="none"/>
<rect x="530.9" y="905.5" width="28.2" height="50" fill="#C7E9C0" fill-opacity="0.7" stroke="#000" stroke-width="2.6"/>
<path d="M530.9 937.5H559.1" stroke="#000" stroke-width="4.3" fill="none"/>
<circle cx="538.75" cy="905.5" r="4.8" fill="#C7E9C0" stroke="#000" stroke-width="1.2"/>
<circle cx="548.75" cy="904.75" r="4.8" fill="#C7E9C0" stroke="#000" stroke-width="1.2"/>
<circle cx="548.25" cy="937.5" r="4.8" fill="#C7E9C0" stroke="#000" stroke-width="1.2"/>
<circle cx="551.25" cy="955.5" r="4.8" fill="#C7E9C0" stroke="#000" stroke-width="1.2"/>
<circle cx="535.5" cy="982" r="4.8" fill="#C7E9C0" stroke="#000" stroke-width="1.2"/>
<text x="545" y="891.75" font-size="24.6" text-anchor="middle">ghij</text>
<path d="M585.2 848.5V910" stroke="#000" stroke-width="2.9" fill="none"/>
<path d="M575.5 848.5H594.9" stroke="#000" stroke-width="2.9" fill="none"/>
<rect x="571.1" y="850.5" width="28.2" height="59.5" fill="#A1D99B" fill-opacity="0.7" stroke="#000" stroke-width="2.6"/>
<path d="M571.1 881.25H599.3" stroke="#000" stroke-width="4.3" fill="none"/>
<circle cx="591.25" cy="849.25" r="4.8" fill="#A1D99B" stroke="#000" stroke-width="1.2"/>
<circle cx="576.75" cy="881.75" r="4.8" fill="#A1D99B" stroke="#000" stroke-width="1.2"/>
<circle cx="590.75" cy="910.5" r="4.8" fill="#A1D99B" stroke="#000" stroke-width="1.2"/>
<text x="585" y="833.5" font-size="24.6" text-anchor="middle">def</text>
<path d="M625.4 873V943" stroke="#000" stroke-width="2.9" fill="none"/>
<path d="M615.7 873H635.1" stroke="#000" stroke-width="2.9" fill="none"/>
<path d="M615.7 943H635.1" stroke="#000" stroke-width="2.9" fill="none"/>
<rect x="611.3" y="901.25" width="28.2" height="37.25" fill="#FDAE6B" fill-opacity="0.7" stroke="#000" stroke-width="2.6"/>
<path d="M611.3 903.5H639.5" stroke="#000" stroke-width="4.3" fill="none"/>
<circle cx="625.5" cy="873" r="4.8" fill="#FDAE6B" stroke="#000" stroke-width="1.2"/>
<circle cx="621.25" cy="901" r="4.8" fill="#FDAE6B" stroke="#000" stroke-width="1.2"/>
<circle cx="625.75" cy="905.5" r="4.8" fill="#FDAE6B" stroke="#000" stroke-width="1.2"/>
<circle cx="615" cy="938" r="4.8" fill="#FDAE6B" stroke="#000" stroke-width="1.2"/>
<circle cx="615.5" cy="944.25" r="4.8" fill="#FDAE6B" stroke="#000" stroke-width="1.2"/>
<text x="625.5" y="856.75" font-size="24.6" text-anchor="middle">fghi</text>
<path d="M665.6 779.75V876.75" stroke="#000" stroke-width="2.9" fill="none"/>
<path d="M655.9 779.75H675.3" stroke="#000" stroke-width="2.9" fill="none"/>
<path d="M655.9 876.75H675.3" stroke="#000" stroke-width="2.9" fill="none"/>
<rect x="651.5" y="793" width="28.2" height="64.5" fill="#FF7F00" fill-opacity="0.7" stroke="#000" stroke-width="2.6"/>
<path d="M651.5 824.25H679.7" stroke="#000" stroke-width="4.3" fill="none"/>
<circle cx="660.75" cy="779.25" r="4.8" fill="#FF7F00" stroke="#000" stroke-width="1.2"/>
<circle cx="660" cy="793" r="4.8" fill="#FF7F00" stroke="#000" stroke-width="1.2"/>
<circle cx="672.5" cy="824.75" r="4.8" fill="#FF7F00" stroke="#000" stroke-width="1.2"/>
<circle cx="658" cy="857.25" r="4.8" fill="#FF7F00" stroke="#000" stroke-width="1.2"/>
<circle cx="663" cy="876.75" r="4.8" fill="#FF7F00" stroke="#000" stroke-width="1.2"/>
<text x="665" y="764.25" font-size="24.6" text-anchor="middle">bcd</text>
<path d="M705.8 918V965.5" stroke="#000" stroke-width="2.9" fill="none"/>
<path d="M696.1 918H715.5" stroke="#000" stroke-width="2.9" fill="none"/>
<path d="M696.1 965.5H715.5" stroke="#000" stroke-width="2.9" fill="none"/>
<rect x="691.7" y="945" width="28.2" height="18.5" fill="#74C476" fill-opacity="0.7" stroke="#000" stroke-width="2.6"/>
<path d="M691.7 956.25H719.9" stroke="#000" stroke-width="4.3" fill="none"/>
<circle cx="709.25" cy="918" r="4.8" fill="#74C476" stroke="#000" stroke-width="1.2"/>
<circle cx="702" cy="945" r="4.8" fill="#74C476" stroke="#000" stroke-width="1.2"/>
<circle cx="700" cy="956.75" r="4.8" fill="#74C476" stroke="#000" stroke-width="1.2"/>
<circle cx="706.25" cy="964.25" r="4.8" fill="#74C476" stroke="#000" stroke-width="1.2"/>
<circle cx="698.75" cy="966.25" r="4.8" fill="#74C476" stroke="#000" stroke-width="1.2"/>
<circle cx="702.5" cy="951.75" r="4.8" fill="#74C476" stroke="#000" stroke-width="1.2"/>
<text x="705" y="903.75" font-size="24.6" text-anchor="middle">hijk</text>
<path d="M746 937.5V946.75" stroke="#000" stroke-width="2.9" fill="none"/>
<path d="M736.3 946.75H755.7" stroke="#000" stroke-width="2.9" fill="none"/>
<rect x="731.9" y="937.5" width="28.2" height="4.25" fill="#FCC5C0" fill-opacity="0.7" stroke="#000" stroke-width="2.6"/>
<path d="M731.9 939.25H760.1" stroke="#000" stroke-width="4.3" fill="none"/>
<circle cx="743" cy="916.75" r="4.8" fill="#FCC5C0" stroke="#000" stroke-width="1.2"/>
<circle cx="736.25" cy="937.5" r="4.8" fill="#FCC5C0" stroke="#000" stroke-width="1.2"/>
<circle cx="743" cy="939.25" r="4.8" fill="#FCC5C0" stroke="#000" stroke-width="1.2"/>
<circle cx="741.25" cy="944.25" r="4.8" fill="#FCC5C0" stroke="#000" stroke-width="1.2"/>
<circle cx="748.75" cy="948" r="4.8" fill="#FCC5C0" stroke="#000" stroke-width="1.2"/>
<text x="745.75" y="900.5" font-size="24.6" text-anchor="middle">ghij</text>
<path d="M786.2 763V820.5" stroke="#000" stroke-width="2.9" fill="none"/>
<path d="M776.5 763H795.9" stroke="#000" stroke-width="2.9" fill="none"/>
<path d="M776.5 820.5H795.9" stroke="#000" stroke-width="2.9" fill="none"/>
<rect x="772.1" y="773" width="28.2" height="30.5" fill="#FA9FB5" fill-opacity="0.7" stroke="#000" stroke-width="2.6"/>
<path d="M772.1 786H800.3" stroke="#000" stroke-width="4.3" fill="none"/>
<circle cx="783.25" cy="763" r="4.8" fill="#FA9FB5" stroke="#000" stroke-width="1.2"/>
<circle cx="782" cy="773" r="4.8" fill="#FA9FB5" stroke="#000" stroke-width="1.2"/>
<circle cx="782" cy="786.25" r="4.8" fill="#FA9FB5" stroke="#000" stroke-width="1.2"/>
<circle cx="781.25" cy="803" r="4.8" fill="#FA9FB5" stroke="#000" stroke-width="1.2"/>
<circle cx="786.25" cy="820.5" r="4.8" fill="#FA9FB5" stroke="#000" stroke-width="1.2"/>
<text x="785.75" y="747.25" font-size="24.6" text-anchor="middle">ab</text>
<path d="M826.4 965V1018" stroke="#000" stroke-width="2.9" fill="none"/>
<path d="M816.7 965H836.1" stroke="#000" stroke-width="2.9" fill="none"/>
<path d="M816.7 1018H836.1" stroke="#000" stroke-width="2.9" fill="none"/>
<rect x="812.3" y="966.75" width="28.2" height="45.75" fill="#4DAF4A" fill-opacity="0.7" stroke="#000" stroke-width="2.6"/>
<path d="M812.3 990H840.5" stroke="#000" stroke-width="4.3" fill="none"/>
<circle cx="828.25" cy="964.25" r="4.8" fill="#4DAF4A" stroke="#000" stroke-width="1.2"/>
<circle cx="831.25" cy="967.25" r="4.8" fill="#4DAF4A" stroke="#000" stroke-width="1.2"/>
<circle cx="826.25" cy="990.5" r="4.8" fill="#4DAF4A" stroke="#000" stroke-width="1.2"/>
<circle cx="835" cy="1011.75" r="4.8" fill="#4DAF4A" stroke="#000" stroke-width="1.2"/>
<circle cx="828.75" cy="1018" r="4.8" fill="#4DAF4A" stroke="#000" stroke-width="1.2"/>
<text x="826.25" y="949.25" font-size="24.6" text-anchor="middle">jklm</text>
<path d="M866.6 807.5V850.5" stroke="#000" stroke-width="2.9" fill="none"/>
<path d="M856.9 850.5H876.3" stroke="#000" stroke-width="2.9" fill="none"/>
<rect x="852.5" y="807.5" width="28.2" height="20" fill="#F781BF" fill-opacity="0.7" stroke="#000" stroke-width="2.6"/>
<path d="M852.5 816.75H880.7" stroke="#000" stroke-width="4.3" fill="none"/>
<circle cx="859.5" cy="770.5" r="4.8" fill="#F781BF" stroke="#000" stroke-width="1.2"/>
<circle cx="866.25" cy="807.25" r="4.8" fill="#F781BF" stroke="#000" stroke-width="1.2"/>
<circle cx="875" cy="817.25" r="4.8" fill="#F781BF" stroke="#000" stroke-width="1.2"/>
<circle cx="858.75" cy="827.5" r="4.8" fill="#F781BF" stroke="#000" stroke-width="1.2"/>
<circle cx="860" cy="851" r="4.8" fill="#F781BF" stroke="#000" stroke-width="1.2"/>
<text x="866.75" y="754.25" font-size="24.6" text-anchor="middle">bc</text>
<path d="M906.8 715.5V753.5" stroke="#000" stroke-width="2.9" fill="none"/>
<path d="M897.1 715.5H916.5" stroke="#000" stroke-width="2.9" fill="none"/>
<rect x="892.7" y="727.5" width="28.2" height="26" fill="#C0479D" fill-opacity="0.7" stroke="#000" stroke-width="2.6"/>
<path d="M892.7 742.25H920.9" stroke="#000" stroke-width="4.3" fill="none"/>
<circle cx="899.25" cy="715.5" r="4.8" fill="#C0479D" stroke="#000" stroke-width="1.2"/>
<circle cx="898.25" cy="731.75" r="4.8" fill="#C0479D" stroke="#000" stroke-width="1.2"/>
<circle cx="902.5" cy="753.75" r="4.8" fill="#C0479D" stroke="#000" stroke-width="1.2"/>
<circle cx="909.25" cy="753.75" r="4.8" fill="#C0479D" stroke="#000" stroke-width="1.2"/>
<text x="905.5" y="699.75" font-size="24.6" text-anchor="middle">a</text>
<rect x="119.9" y="632.5" width="809.4" height="489.9" fill="none" stroke="#000" stroke-width="3.3"/>
<text transform="translate(23,1515.2) rotate(-90)" font-size="29.3" text-anchor="middle">P-cycling gene Shannon diversity</text>
<text x="-0.4" y="1273.3" font-size="33.3" font-weight="bold">(e)</text>
<line x1="107.05" x2="119.9" y1="1255.5" y2="1255.5" stroke="#000" stroke-width="3.1"/>
<text x="98.3" y="1264.4" font-size="25" text-anchor="end">4.15</text>
<line x1="107.05" x2="119.9" y1="1418.8" y2="1418.8" stroke="#000" stroke-width="3.1"/>
<text x="98.3" y="1427.7" font-size="25" text-anchor="end">4.05</text>
<line x1="107.05" x2="119.9" y1="1582.1" y2="1582.1" stroke="#000" stroke-width="3.1"/>
<text x="98.3" y="1591" font-size="25" text-anchor="end">3.95</text>
<line x1="107.05" x2="119.9" y1="1745.4" y2="1745.4" stroke="#000" stroke-width="3.1"/>
<text x="98.3" y="1754.3" font-size="25" text-anchor="end">3.85</text>
<line x1="143" x2="143" y1="1745.4" y2="1758.25" stroke="#000" stroke-width="3.1"/>
<text transform="translate(134.2,1767) rotate(90)" font-size="24.3">DS1</text>
<line x1="183.2" x2="183.2" y1="1745.4" y2="1758.25" stroke="#000" stroke-width="3.1"/>
<text transform="translate(174.4,1767) rotate(90)" font-size="24.3">DS2</text>
<line x1="223.4" x2="223.4" y1="1745.4" y2="1758.25" stroke="#000" stroke-width="3.1"/>
<text transform="translate(214.6,1767) rotate(90)" font-size="24.3">SMS1</text>
<line x1="263.6" x2="263.6" y1="1745.4" y2="1758.25" stroke="#000" stroke-width="3.1"/>
<text transform="translate(254.8,1767) rotate(90)" font-size="24.3">BLF1</text>
<line x1="303.8" x2="303.8" y1="1745.4" y2="1758.25" stroke="#000" stroke-width="3.1"/>
<text transform="translate(295,1767) rotate(90)" font-size="24.3">SMS2</text>
<line x1="344" x2="344" y1="1745.4" y2="1758.25" stroke="#000" stroke-width="3.1"/>
<text transform="translate(335.2,1767) rotate(90)" font-size="24.3">SMS3</text>
<line x1="384.2" x2="384.2" y1="1745.4" y2="1758.25" stroke="#000" stroke-width="3.1"/>
<text transform="translate(375.4,1767) rotate(90)" font-size="24.3">TCF1</text>
<line x1="424.4" x2="424.4" y1="1745.4" y2="1758.25" stroke="#000" stroke-width="3.1"/>
<text transform="translate(415.6,1767) rotate(90)" font-size="24.3">MBCF1</text>
<line x1="464.6" x2="464.6" y1="1745.4" y2="1758.25" stroke="#000" stroke-width="3.1"/>
<text transform="translate(455.8,1767) rotate(90)" font-size="24.3">MBCF2</text>
<line x1="504.8" x2="504.8" y1="1745.4" y2="1758.25" stroke="#000" stroke-width="3.1"/>
<text transform="translate(496,1767) rotate(90)" font-size="24.3">MBCF3</text>
<line x1="545" x2="545" y1="1745.4" y2="1758.25" stroke="#000" stroke-width="3.1"/>
<text transform="translate(536.2,1767) rotate(90)" font-size="24.3">DCF1</text>
<line x1="585.2" x2="585.2" y1="1745.4" y2="1758.25" stroke="#000" stroke-width="3.1"/>
<text transform="translate(576.4,1767) rotate(90)" font-size="24.3">DCF2</text>
<line x1="625.4" x2="625.4" y1="1745.4" y2="1758.25" stroke="#000" stroke-width="3.1"/>
<text transform="translate(616.6,1767) rotate(90)" font-size="24.3">SS1</text>
<line x1="665.6" x2="665.6" y1="1745.4" y2="1758.25" stroke="#000" stroke-width="3.1"/>
<text transform="translate(656.8,1767) rotate(90)" font-size="24.3">SS2</text>
<line x1="705.8" x2="705.8" y1="1745.4" y2="1758.25" stroke="#000" stroke-width="3.1"/>
<text transform="translate(697,1767) rotate(90)" font-size="24.3">DCF3</text>
<line x1="746" x2="746" y1="1745.4" y2="1758.25" stroke="#000" stroke-width="3.1"/>
<text transform="translate(737.2,1767) rotate(90)" font-size="24.3">AM1</text>
<line x1="786.2" x2="786.2" y1="1745.4" y2="1758.25" stroke="#000" stroke-width="3.1"/>
<text transform="translate(777.4,1767) rotate(90)" font-size="24.3">AM2</text>
<line x1="826.4" x2="826.4" y1="1745.4" y2="1758.25" stroke="#000" stroke-width="3.1"/>
<text transform="translate(817.6,1767) rotate(90)" font-size="24.3">DCF4</text>
<line x1="866.6" x2="866.6" y1="1745.4" y2="1758.25" stroke="#000" stroke-width="3.1"/>
<text transform="translate(857.8,1767) rotate(90)" font-size="24.3">AM3</text>
<line x1="906.8" x2="906.8" y1="1745.4" y2="1758.25" stroke="#000" stroke-width="3.1"/>
<text transform="translate(898,1767) rotate(90)" font-size="24.3">AM4</text>
<path d="M143 1497.25V1505.5" stroke="#000" stroke-width="2.9" fill="none"/>
<rect x="128.9" y="1497.25" width="28.2" height="8.25" fill="#FB6A4A" fill-opacity="0.7" stroke="#000" stroke-width="2.6"/>
<path d="M128.9 1503.5H157.1" stroke="#000" stroke-width="4.3" fill="none"/>
<circle cx="139.5" cy="1498" r="4.8" fill="#FB6A4A" stroke="#000" stroke-width="1.2"/>
<circle cx="145" cy="1496.5" r="4.8" fill="#FB6A4A" stroke="#000" stroke-width="1.2"/>
<circle cx="148.75" cy="1499" r="4.8" fill="#FB6A4A" stroke="#000" stroke-width="1.2"/>
<circle cx="151.75" cy="1505.5" r="4.8" fill="#FB6A4A" stroke="#000" stroke-width="1.2"/>
<circle cx="133.25" cy="1583.5" r="4.8" fill="#FB6A4A" stroke="#000" stroke-width="1.2"/>
<text x="156.25" y="1481" font-size="24.6" text-anchor="middle">bcdef</text>
<path d="M183.2 1552.25V1595.5" stroke="#000" stroke-width="2.9" fill="none"/>
<path d="M173.5 1552.25H192.9" stroke="#000" stroke-width="2.9" fill="none"/>
<path d="M173.5 1595.5H192.9" stroke="#000" stroke-width="2.9" fill="none"/>
<rect x="169.1" y="1568.5" width="28.2" height="25" fill="#E31A1C" fill-opacity="0.7" stroke="#000" stroke-width="2.6"/>
<path d="M169.1 1584H197.3" stroke="#000" stroke-width="4.3" fill="none"/>
<circle cx="192.5" cy="1552.25" r="4.8" fill="#E31A1C" stroke="#000" stroke-width="1.2"/>
<circle cx="179.5" cy="1569" r="4.8" fill="#E31A1C" stroke="#000" stroke-width="1.2"/>
<circle cx="178.25" cy="1584" r="4.8" fill="#E31A1C" stroke="#000" stroke-width="1.2"/>
<circle cx="186.25" cy="1588.5" r="4.8" fill="#E31A1C" stroke="#000" stroke-width="1.2"/>
<circle cx="182" cy="1594" r="4.8" fill="#E31A1C" stroke="#000" stroke-width="1.2"/>
<circle cx="193.25" cy="1595.5" r="4.8" fill="#E31A1C" stroke="#000" stroke-width="1.2"/>
<text x="183.25" y="1536" font-size="24.6" text-anchor="middle">efgh</text>
<path d="M223.4 1591.5V1617.25" stroke="#000" stroke-width="2.9" fill="none"/>
<path d="M213.7 1591.5H233.1" stroke="#000" stroke-width="2.9" fill="none"/>
<path d="M213.7 1617.25H233.1" stroke="#000" stroke-width="2.9" fill="none"/>
<rect x="209.3" y="1601" width="28.2" height="10" fill="#9ECAE1" fill-opacity="0.7" stroke="#000" stroke-width="2.6"/>
<path d="M209.3 1604H237.5" stroke="#000" stroke-width="4.3" fill="none"/>
<circle cx="233.25" cy="1591.75" r="4.8" fill="#9ECAE1" stroke="#000" stroke-width="1.2"/>
<circle cx="214.5" cy="1602.25" r="4.8" fill="#9ECAE1" stroke="#000" stroke-width="1.2"/>
<circle cx="215" cy="1604.75" r="4.8" fill="#9ECAE1" stroke="#000" stroke-width="1.2"/>
<circle cx="221.25" cy="1611" r="4.8" fill="#9ECAE1" stroke="#000" stroke-width="1.2"/>
<circle cx="226.75" cy="1617.25" r="4.8" fill="#9ECAE1" stroke="#000" stroke-width="1.2"/>
<text x="223" y="1577.25" font-size="24.6" text-anchor="middle">h</text>
<path d="M263.6 1457.5V1579" stroke="#000" stroke-width="2.9" fill="none"/>
<path d="M253.9 1457.5H273.3" stroke="#000" stroke-width="2.9" fill="none"/>
<path d="M253.9 1579H273.3" stroke="#000" stroke-width="2.9" fill="none"/>
<rect x="249.5" y="1505.25" width="28.2" height="51.5" fill="#B15928" fill-opacity="0.7" stroke="#000" stroke-width="2.6"/>
<path d="M249.5 1518.5H277.7" stroke="#000" stroke-width="4.3" fill="none"/>
<circle cx="254.5" cy="1457.5" r="4.8" fill="#B15928" stroke="#000" stroke-width="1.2"/>
<circle cx="255.5" cy="1505.25" r="4.8" fill="#B15928" stroke="#000" stroke-width="1.2"/>
<circle cx="254.5" cy="1518" r="4.8" fill="#B15928" stroke="#000" stroke-width="1.2"/>
<circle cx="263.75" cy="1556.75" r="4.8" fill="#B15928" stroke="#000" stroke-width="1.2"/>
<circle cx="270.75" cy="1579" r="4.8" fill="#B15928" stroke="#000" stroke-width="1.2"/>
<text x="263.75" y="1442.25" font-size="24.6" text-anchor="middle">bcdefg</text>
<path d="M303.8 1548V1569.75" stroke="#000" stroke-width="2.9" fill="none"/>
<path d="M294.1 1569.75H313.5" stroke="#000" stroke-width="2.9" fill="none"/>
<rect x="289.7" y="1548" width="28.2" height="14.75" fill="#6BAED6" fill-opacity="0.7" stroke="#000" stroke-width="2.6"/>
<path d="M289.7 1557.25H317.9" stroke="#000" stroke-width="4.3" fill="none"/>
<circle cx="303.25" cy="1503.5" r="4.8" fill="#6BAED6" stroke="#000" stroke-width="1.2"/>
<circle cx="307.5" cy="1548" r="4.8" fill="#6BAED6" stroke="#000" stroke-width="1.2"/>
<circle cx="302.5" cy="1554.75" r="4.8" fill="#6BAED6" stroke="#000" stroke-width="1.2"/>
<circle cx="295.5" cy="1562.25" r="4.8" fill="#6BAED6" stroke="#000" stroke-width="1.2"/>
<circle cx="301.25" cy="1570.25" r="4.8" fill="#6BAED6" stroke="#000" stroke-width="1.2"/>
<text x="303.75" y="1487.25" font-size="24.6" text-anchor="middle" textLength="67" lengthAdjust="spacing">cdefgh</text>
<path d="M344 1488.5V1567.25" stroke="#000" stroke-width="2.9" fill="none"/>
<path d="M334.3 1488.5H353.7" stroke="#000" stroke-width="2.9" fill="none"/>
<path d="M334.3 1567.25H353.7" stroke="#000" stroke-width="2.9" fill="none"/>
<rect x="329.9" y="1524.25" width="28.2" height="39.75" fill="#2171B5" fill-opacity="0.7" stroke="#000" stroke-width="2.6"/>
<path d="M329.9 1561H358.1" stroke="#000" stroke-width="4.3" fill="none"/>
<circle cx="345.75" cy="1488.5" r="4.8" fill="#2171B5" stroke="#000" stroke-width="1.2"/>
<circle cx="335.75" cy="1560.5" r="4.8" fill="#2171B5" stroke="#000" stroke-width="1.2"/>
<circle cx="354.25" cy="1567.75" r="4.8" fill="#2171B5" stroke="#000" stroke-width="1.2"/>
<text x="344" y="1464.75" font-size="24.6" text-anchor="middle" textLength="79" lengthAdjust="spacing">bcdefgh</text>
<path d="M384.2 1532.25V1551" stroke="#000" stroke-width="2.9" fill="none"/>
<path d="M374.5 1532.25H393.9" stroke="#000" stroke-width="2.9" fill="none"/>
<path d="M374.5 1551H393.9" stroke="#000" stroke-width="2.9" fill="none"/>
<rect x="370.1" y="1535.5" width="28.2" height="10" fill="#F0E442" fill-opacity="0.7" stroke="#000" stroke-width="2.6"/>
<path d="M370.1 1541H398.3" stroke="#000" stroke-width="4.3" fill="none"/>
<circle cx="386.75" cy="1531.75" r="4.8" fill="#F0E442" stroke="#000" stroke-width="1.2"/>
<circle cx="375" cy="1535.5" r="4.8" fill="#F0E442" stroke="#000" stroke-width="1.2"/>
<circle cx="377" cy="1544.75" r="4.8" fill="#F0E442" stroke="#000" stroke-width="1.2"/>
<circle cx="391.25" cy="1542.75" r="4.8" fill="#F0E442" stroke="#000" stroke-width="1.2"/>
<circle cx="390.75" cy="1551" r="4.8" fill="#F0E442" stroke="#000" stroke-width="1.2"/>
<text x="384" y="1515.5" font-size="24.6" text-anchor="middle" textLength="78" lengthAdjust="spacing">bcdefgh</text>
<path d="M424.4 1555.5V1560.5" stroke="#000" stroke-width="2.9" fill="none"/>
<rect x="410.3" y="1555.5" width="28.2" height="5" fill="#BCBDDC" fill-opacity="0.7" stroke="#000" stroke-width="2.6"/>
<path d="M410.3 1558H438.5" stroke="#000" stroke-width="4.3" fill="none"/>
<circle cx="430.75" cy="1499.25" r="4.8" fill="#BCBDDC" stroke="#000" stroke-width="1.2"/>
<circle cx="418.75" cy="1556" r="4.8" fill="#BCBDDC" stroke="#000" stroke-width="1.2"/>
<circle cx="422.5" cy="1556.75" r="4.8" fill="#BCBDDC" stroke="#000" stroke-width="1.2"/>
<circle cx="419.5" cy="1560.5" r="4.8" fill="#BCBDDC" stroke="#000" stroke-width="1.2"/>
<circle cx="428" cy="1624.25" r="4.8" fill="#BCBDDC" stroke="#000" stroke-width="1.2"/>
<text x="424.25" y="1483.5" font-size="24.6" text-anchor="middle">defgh</text>
<path d="M464.6 1548.5V1605.5" stroke="#000" stroke-width="2.9" fill="none"/>
<path d="M454.9 1548.5H474.3" stroke="#000" stroke-width="2.9" fill="none"/>
<rect x="450.5" y="1571" width="28.2" height="34.5" fill="#8C6BB1" fill-opacity="0.7" stroke="#000" stroke-width="2.6"/>
<path d="M450.5 1603.5H478.7" stroke="#000" stroke-width="4.3" fill="none"/>
<circle cx="470" cy="1548.5" r="4.8" fill="#8C6BB1" stroke="#000" stroke-width="1.2"/>
<circle cx="464.5" cy="1571" r="4.8" fill="#8C6BB1" stroke="#000" stroke-width="1.2"/>
<circle cx="459.25" cy="1604" r="4.8" fill="#8C6BB1" stroke="#000" stroke-width="1.2"/>
<circle cx="470" cy="1604.75" r="4.8" fill="#8C6BB1" stroke="#000" stroke-width="1.2"/>
<circle cx="457.5" cy="1675.25" r="4.8" fill="#8C6BB1" stroke="#000" stroke-width="1.2"/>
<text x="464.5" y="1533" font-size="24.6" text-anchor="middle">gh</text>
<path d="M504.8 1520.5V1534.75" stroke="#000" stroke-width="2.9" fill="none"/>
<path d="M495.1 1534.75H514.5" stroke="#000" stroke-width="2.9" fill="none"/>
<rect x="490.7" y="1520.5" width="28.2" height="11.25" fill="#984EA3" fill-opacity="0.7" stroke="#000" stroke-width="2.6"/>
<path d="M490.7 1526H518.9" stroke="#000" stroke-width="4.3" fill="none"/>
<circle cx="502.5" cy="1458" r="4.8" fill="#984EA3" stroke="#000" stroke-width="1.2"/>
<circle cx="502.5" cy="1520.5" r="4.8" fill="#984EA3" stroke="#000" stroke-width="1.2"/>
<circle cx="501.75" cy="1529.25" r="4.8" fill="#984EA3" stroke="#000" stroke-width="1.2"/>
<circle cx="507.5" cy="1531" r="4.8" fill="#984EA3" stroke="#000" stroke-width="1.2"/>
<circle cx="505.5" cy="1534.75" r="4.8" fill="#984EA3" stroke="#000" stroke-width="1.2"/>
<text x="504" y="1442.25" font-size="24.6" text-anchor="middle">bcdef</text>
<path d="M545 1503V1509.75" stroke="#000" stroke-width="2.9" fill="none"/>
<rect x="530.9" y="1503" width="28.2" height="6.75" fill="#C7E9C0" fill-opacity="0.7" stroke="#000" stroke-width="2.6"/>
<path d="M530.9 1504.75H559.1" stroke="#000" stroke-width="4.3" fill="none"/>
<circle cx="537.5" cy="1504.75" r="4.8" fill="#C7E9C0" stroke="#000" stroke-width="1.2"/>
<circle cx="553.25" cy="1504" r="4.8" fill="#C7E9C0" stroke="#000" stroke-width="1.2"/>
<circle cx="553.75" cy="1509.75" r="4.8" fill="#C7E9C0" stroke="#000" stroke-width="1.2"/>
<circle cx="540.5" cy="1543.5" r="4.8" fill="#C7E9C0" stroke="#000" stroke-width="1.2"/>
<text x="544.5" y="1487.25" font-size="24.6" text-anchor="middle">bcde</text>
<path d="M585.2 1485.5V1584" stroke="#000" stroke-width="2.9" fill="none"/>
<path d="M575.5 1485.5H594.9" stroke="#000" stroke-width="2.9" fill="none"/>
<path d="M575.5 1584H594.9" stroke="#000" stroke-width="2.9" fill="none"/>
<rect x="571.1" y="1498" width="28.2" height="83" fill="#A1D99B" fill-opacity="0.7" stroke="#000" stroke-width="2.6"/>
<path d="M571.1 1561.5H599.3" stroke="#000" stroke-width="4.3" fill="none"/>
<circle cx="580" cy="1485.25" r="4.8" fill="#A1D99B" stroke="#000" stroke-width="1.2"/>
<circle cx="582.5" cy="1498" r="4.8" fill="#A1D99B" stroke="#000" stroke-width="1.2"/>
<circle cx="584.5" cy="1561.75" r="4.8" fill="#A1D99B" stroke="#000" stroke-width="1.2"/>
<circle cx="576.75" cy="1581" r="4.8" fill="#A1D99B" stroke="#000" stroke-width="1.2"/>
<circle cx="582.5" cy="1584.75" r="4.8" fill="#A1D99B" stroke="#000" stroke-width="1.2"/>
<text x="570" y="1469.75" font-size="24.6" text-anchor="middle" textLength="79" lengthAdjust="spacing">bcdefgh</text>
<path d="M625.4 1439.75V1493.5" stroke="#000" stroke-width="2.9" fill="none"/>
<path d="M615.7 1439.75H635.1" stroke="#000" stroke-width="2.9" fill="none"/>
<path d="M615.7 1493.5H635.1" stroke="#000" stroke-width="2.9" fill="none"/>
<rect x="611.3" y="1463" width="28.2" height="17.5" fill="#FDAE6B" fill-opacity="0.7" stroke="#000" stroke-width="2.6"/>
<path d="M611.3 1464.25H639.5" stroke="#000" stroke-width="4.3" fill="none"/>
<circle cx="615.5" cy="1439.25" r="4.8" fill="#FDAE6B" stroke="#000" stroke-width="1.2"/>
<circle cx="615.75" cy="1464" r="4.8" fill="#FDAE6B" stroke="#000" stroke-width="1.2"/>
<circle cx="623.25" cy="1463.5" r="4.8" fill="#FDAE6B" stroke="#000" stroke-width="1.2"/>
<circle cx="618.25" cy="1479.75" r="4.8" fill="#FDAE6B" stroke="#000" stroke-width="1.2"/>
<circle cx="622" cy="1493.5" r="4.8" fill="#FDAE6B" stroke="#000" stroke-width="1.2"/>
<text x="624.5" y="1424.25" font-size="24.6" text-anchor="middle">ab</text>
<path d="M665.6 1548.5V1636.75" stroke="#000" stroke-width="2.9" fill="none"/>
<path d="M655.9 1548.5H675.3" stroke="#000" stroke-width="2.9" fill="none"/>
<path d="M655.9 1636.75H675.3" stroke="#000" stroke-width="2.9" fill="none"/>
<rect x="651.5" y="1554.75" width="28.2" height="53.75" fill="#FF7F00" fill-opacity="0.7" stroke="#000" stroke-width="2.6"/>
<path d="M651.5 1607.25H679.7" stroke="#000" stroke-width="4.3" fill="none"/>
<circle cx="663.75" cy="1548.5" r="4.8" fill="#FF7F00" stroke="#000" stroke-width="1.2"/>
<circle cx="661.25" cy="1555.25" r="4.8" fill="#FF7F00" stroke="#000" stroke-width="1.2"/>
<circle cx="656.25" cy="1606.75" r="4.8" fill="#FF7F00" stroke="#000" stroke-width="1.2"/>
<circle cx="665.75" cy="1608.5" r="4.8" fill="#FF7F00" stroke="#000" stroke-width="1.2"/>
<circle cx="674.25" cy="1636.75" r="4.8" fill="#FF7F00" stroke="#000" stroke-width="1.2"/>
<text x="665.75" y="1533.5" font-size="24.6" text-anchor="middle">fgh</text>
<path d="M705.8 1471.75V1503.5" stroke="#000" stroke-width="2.9" fill="none"/>
<rect x="691.7" y="1471.75" width="28.2" height="31.75" fill="#74C476" fill-opacity="0.7" stroke="#000" stroke-width="2.6"/>
<path d="M691.7 1481.75H719.9" stroke="#000" stroke-width="4.3" fill="none"/>
<circle cx="700" cy="1421.75" r="4.8" fill="#74C476" stroke="#000" stroke-width="1.2"/>
<circle cx="713.25" cy="1471.75" r="4.8" fill="#74C476" stroke="#000" stroke-width="1.2"/>
<circle cx="710.75" cy="1481.75" r="4.8" fill="#74C476" stroke="#000" stroke-width="1.2"/>
<circle cx="696.75" cy="1502.75" r="4.8" fill="#74C476" stroke="#000" stroke-width="1.2"/>
<circle cx="711.25" cy="1507.25" r="4.8" fill="#74C476" stroke="#000" stroke-width="1.2"/>
<text x="705.5" y="1406" font-size="24.6" text-anchor="middle">bc</text>
<path d="M746 1436V1509.25" stroke="#000" stroke-width="2.9" fill="none"/>
<path d="M736.3 1436H755.7" stroke="#000" stroke-width="2.9" fill="none"/>
<path d="M736.3 1509.25H755.7" stroke="#000" stroke-width="2.9" fill="none"/>
<rect x="731.9" y="1474.75" width="28.2" height="25.75" fill="#FCC5C0" fill-opacity="0.7" stroke="#000" stroke-width="2.6"/>
<path d="M731.9 1476.5H760.1" stroke="#000" stroke-width="4.3" fill="none"/>
<circle cx="749.5" cy="1436.5" r="4.8" fill="#FCC5C0" stroke="#000" stroke-width="1.2"/>
<circle cx="736.25" cy="1474.25" r="4.8" fill="#FCC5C0" stroke="#000" stroke-width="1.2"/>
<circle cx="744.25" cy="1477.25" r="4.8" fill="#FCC5C0" stroke="#000" stroke-width="1.2"/>
<circle cx="743" cy="1499.75" r="4.8" fill="#FCC5C0" stroke="#000" stroke-width="1.2"/>
<circle cx="743.75" cy="1509.75" r="4.8" fill="#FCC5C0" stroke="#000" stroke-width="1.2"/>
<text x="745.5" y="1421" font-size="24.6" text-anchor="middle">bc</text>
<path d="M786.2 1463V1507.25" stroke="#000" stroke-width="2.9" fill="none"/>
<path d="M776.5 1463H795.9" stroke="#000" stroke-width="2.9" fill="none"/>
<path d="M776.5 1507.25H795.9" stroke="#000" stroke-width="2.9" fill="none"/>
<rect x="772.1" y="1467.25" width="28.2" height="16.75" fill="#FA9FB5" fill-opacity="0.7" stroke="#000" stroke-width="2.6"/>
<path d="M772.1 1470.25H800.3" stroke="#000" stroke-width="4.3" fill="none"/>
<circle cx="794.5" cy="1463" r="4.8" fill="#FA9FB5" stroke="#000" stroke-width="1.2"/>
<circle cx="791.25" cy="1468" r="4.8" fill="#FA9FB5" stroke="#000" stroke-width="1.2"/>
<circle cx="788.75" cy="1472.25" r="4.8" fill="#FA9FB5" stroke="#000" stroke-width="1.2"/>
<circle cx="776.75" cy="1484" r="4.8" fill="#FA9FB5" stroke="#000" stroke-width="1.2"/>
<circle cx="790" cy="1507.75" r="4.8" fill="#FA9FB5" stroke="#000" stroke-width="1.2"/>
<text x="785.75" y="1446.75" font-size="24.6" text-anchor="middle">bc</text>
<path d="M826.4 1359.75V1443" stroke="#000" stroke-width="2.9" fill="none"/>
<path d="M816.7 1359.75H836.1" stroke="#000" stroke-width="2.9" fill="none"/>
<path d="M816.7 1443H836.1" stroke="#000" stroke-width="2.9" fill="none"/>
<rect x="812.3" y="1371.5" width="28.2" height="58.75" fill="#4DAF4A" fill-opacity="0.7" stroke="#000" stroke-width="2.6"/>
<path d="M812.3 1372.25H840.5" stroke="#000" stroke-width="4.3" fill="none"/>
<circle cx="830.5" cy="1359.75" r="4.8" fill="#4DAF4A" stroke="#000" stroke-width="1.2"/>
<circle cx="819.25" cy="1371.5" r="4.8" fill="#4DAF4A" stroke="#000" stroke-width="1.2"/>
<circle cx="823" cy="1374" r="4.8" fill="#4DAF4A" stroke="#000" stroke-width="1.2"/>
<circle cx="832.5" cy="1429.75" r="4.8" fill="#4DAF4A" stroke="#000" stroke-width="1.2"/>
<circle cx="820.5" cy="1443.5" r="4.8" fill="#4DAF4A" stroke="#000" stroke-width="1.2"/>
<text x="825.75" y="1345.5" font-size="24.6" text-anchor="middle">a</text>
<path d="M866.6 1511V1570.25" stroke="#000" stroke-width="2.9" fill="none"/>
<path d="M856.9 1511H876.3" stroke="#000" stroke-width="2.9" fill="none"/>
<path d="M856.9 1570.25H876.3" stroke="#000" stroke-width="2.9" fill="none"/>
<rect x="852.5" y="1527.75" width="28.2" height="19.5" fill="#F781BF" fill-opacity="0.7" stroke="#000" stroke-width="2.6"/>
<path d="M852.5 1545.25H880.7" stroke="#000" stroke-width="4.3" fill="none"/>
<circle cx="856.25" cy="1511" r="4.8" fill="#F781BF" stroke="#000" stroke-width="1.2"/>
<circle cx="862.5" cy="1528" r="4.8" fill="#F781BF" stroke="#000" stroke-width="1.2"/>
<circle cx="867" cy="1546.5" r="4.8" fill="#F781BF" stroke="#000" stroke-width="1.2"/>
<circle cx="874.25" cy="1570.5" r="4.8" fill="#F781BF" stroke="#000" stroke-width="1.2"/>
<text x="850" y="1494.75" font-size="24.6" text-anchor="middle" textLength="78" lengthAdjust="spacing">bcdefgh</text>
<path d="M906.8 1462.25V1506" stroke="#000" stroke-width="2.9" fill="none"/>
<path d="M897.1 1462.25H916.5" stroke="#000" stroke-width="2.9" fill="none"/>
<path d="M897.1 1506H916.5" stroke="#000" stroke-width="2.9" fill="none"/>
<rect x="892.7" y="1484.75" width="28.2" height="17.5" fill="#C0479D" fill-opacity="0.7" stroke="#000" stroke-width="2.6"/>
<path d="M892.7 1498H920.9" stroke="#000" stroke-width="4.3" fill="none"/>
<circle cx="901.75" cy="1462.25" r="4.8" fill="#C0479D" stroke="#000" stroke-width="1.2"/>
<circle cx="903" cy="1492.25" r="4.8" fill="#C0479D" stroke="#000" stroke-width="1.2"/>
<circle cx="905" cy="1499.75" r="4.8" fill="#C0479D" stroke="#000" stroke-width="1.2"/>
<circle cx="914.25" cy="1506.75" r="4.8" fill="#C0479D" stroke="#000" stroke-width="1.2"/>
<text x="906.25" y="1446" font-size="24.6" text-anchor="middle">bcd</text>
<rect x="119.9" y="1255.5" width="809.4" height="489.9" fill="none" stroke="#000" stroke-width="3.3"/>
<text x="968" y="25.9" font-size="33.3" font-weight="bold">(b)</text>
<text transform="translate(995,253.6) rotate(-90)" font-size="29.3" text-anchor="middle">PCoA 2 (20.79%)</text>
<line x1="1087.15" x2="1100" y1="9.5" y2="9.5" stroke="#000" stroke-width="3.1"/>
<text x="1077.1" y="18.4" font-size="25" text-anchor="end">0.10</text>
<line x1="1087.15" x2="1100" y1="131.97" y2="131.97" stroke="#000" stroke-width="3.1"/>
<text x="1077.1" y="140.88" font-size="25" text-anchor="end">0.05</text>
<line x1="1087.15" x2="1100" y1="254.45" y2="254.45" stroke="#000" stroke-width="3.1"/>
<text x="1077.1" y="263.35" font-size="25" text-anchor="end">0.00</text>
<line x1="1087.15" x2="1100" y1="376.92" y2="376.92" stroke="#000" stroke-width="3.1"/>
<text x="1077.1" y="385.82" font-size="25" text-anchor="end">−0.05</text>
<line x1="1087.15" x2="1100" y1="499.4" y2="499.4" stroke="#000" stroke-width="3.1"/>
<text x="1077.1" y="508.3" font-size="25" text-anchor="end">−0.10</text>
<line x1="1100" x2="1100" y1="499.4" y2="512.25" stroke="#000" stroke-width="3.1"/>
<text x="1100" y="539.3" font-size="25" text-anchor="middle">−0.15</text>
<line x1="1203.58" x2="1203.58" y1="499.4" y2="512.25" stroke="#000" stroke-width="3.1"/>
<text x="1203.58" y="539.3" font-size="25" text-anchor="middle">−0.10</text>
<line x1="1307.17" x2="1307.17" y1="499.4" y2="512.25" stroke="#000" stroke-width="3.1"/>
<text x="1307.17" y="539.3" font-size="25" text-anchor="middle">−0.05</text>
<line x1="1410.75" x2="1410.75" y1="499.4" y2="512.25" stroke="#000" stroke-width="3.1"/>
<text x="1410.75" y="539.3" font-size="25" text-anchor="middle">0.00</text>
<line x1="1514.33" x2="1514.33" y1="499.4" y2="512.25" stroke="#000" stroke-width="3.1"/>
<text x="1514.33" y="539.3" font-size="25" text-anchor="middle">0.05</text>
<line x1="1617.92" x2="1617.92" y1="499.4" y2="512.25" stroke="#000" stroke-width="3.1"/>
<text x="1617.92" y="539.3" font-size="25" text-anchor="middle">0.10</text>
<line x1="1721.5" x2="1721.5" y1="499.4" y2="512.25" stroke="#000" stroke-width="3.1"/>
<text x="1721.5" y="539.3" font-size="25" text-anchor="middle">0.15</text>
<text x="1410.3" y="583" font-size="29.3" text-anchor="middle">PCoA 1 (54.20%)</text>
<path d="M1098.5 254.45H1721.5" stroke="#999" stroke-width="7.4" stroke-dasharray="7.3 21.15" fill="none"/>
<path d="M1410.1 8.65V499.4" stroke="#999" stroke-width="7.4" stroke-dasharray="7.3 21.15" fill="none"/>
<text x="1117.5" y="44" font-size="25" font-weight="bold">C-cycling genes</text>
<text x="1117.5" y="79.9" font-size="24.87">PERMANOVA: <tspan font-style="italic">R</tspan><tspan font-size="15" dy="-10.6">2</tspan><tspan dy="10.6"> = 0.84, </tspan><tspan font-style="italic">P</tspan> = 0.001</text>
<circle cx="1241.75" cy="447.5" r="5.9" fill="#FB6A4A"/>
<circle cx="1263" cy="442.5" r="5.9" fill="#FB6A4A"/>
<circle cx="1308.75" cy="413.75" r="5.9" fill="#FB6A4A"/>
<circle cx="1320" cy="450" r="5.9" fill="#FB6A4A"/>
<circle cx="1419.5" cy="442.75" r="5.9" fill="#FB6A4A"/>
<circle cx="1358.75" cy="324.5" r="5.9" fill="#E31A1C"/>
<circle cx="1418.75" cy="323" r="5.9" fill="#E31A1C"/>
<circle cx="1408" cy="358.75" r="5.9" fill="#E31A1C"/>
<circle cx="1439.5" cy="345.5" r="5.9" fill="#E31A1C"/>
<circle cx="1456.25" cy="349.25" r="5.9" fill="#E31A1C"/>
<circle cx="1523.25" cy="329.25" r="5.9" fill="#9ECAE1"/>
<circle cx="1497.5" cy="344.25" r="5.9" fill="#9ECAE1"/>
<circle cx="1508" cy="344.25" r="5.9" fill="#9ECAE1"/>
<circle cx="1507.5" cy="355" r="5.9" fill="#9ECAE1"/>
<circle cx="1450" cy="335" r="5.9" fill="#9ECAE1"/>
<circle cx="1357.5" cy="260.75" r="5.9" fill="#6BAED6"/>
<circle cx="1332.5" cy="303" r="5.9" fill="#6BAED6"/>
<circle cx="1352.5" cy="345.5" r="5.9" fill="#6BAED6"/>
<circle cx="1434.25" cy="318.75" r="5.9" fill="#6BAED6"/>
<circle cx="1411.25" cy="296.25" r="5.9" fill="#6BAED6"/>
<circle cx="1374.5" cy="414.25" r="5.9" fill="#2171B5"/>
<circle cx="1519.25" cy="343.25" r="5.9" fill="#2171B5"/>
<circle cx="1536.25" cy="357" r="5.9" fill="#2171B5"/>
<circle cx="1413.75" cy="269.5" r="5.9" fill="#B15928"/>
<circle cx="1486.75" cy="307.5" r="5.9" fill="#B15928"/>
<circle cx="1490.5" cy="339.25" r="5.9" fill="#B15928"/>
<circle cx="1422.5" cy="356.75" r="5.9" fill="#B15928"/>
<circle cx="1414.5" cy="343.25" r="5.9" fill="#B15928"/>
<circle cx="1528" cy="300" r="5.9" fill="#F0E442"/>
<circle cx="1548.25" cy="303.75" r="5.9" fill="#F0E442"/>
<circle cx="1497" cy="309.5" r="5.9" fill="#F0E442"/>
<circle cx="1477.5" cy="321.75" r="5.9" fill="#F0E442"/>
<circle cx="1486.25" cy="338.75" r="5.9" fill="#F0E442"/>
<circle cx="1550.75" cy="215.5" r="5.9" fill="#BCBDDC"/>
<circle cx="1568" cy="216.75" r="5.9" fill="#BCBDDC"/>
<circle cx="1516.25" cy="252.5" r="5.9" fill="#BCBDDC"/>
<circle cx="1480.5" cy="266.25" r="5.9" fill="#BCBDDC"/>
<circle cx="1417.5" cy="267.5" r="5.9" fill="#BCBDDC"/>
<circle cx="1605" cy="227" r="5.9" fill="#8C6BB1"/>
<circle cx="1556.75" cy="225" r="5.9" fill="#8C6BB1"/>
<circle cx="1552.5" cy="234.5" r="5.9" fill="#8C6BB1"/>
<circle cx="1527" cy="246.25" r="5.9" fill="#8C6BB1"/>
<circle cx="1565.75" cy="260.75" r="5.9" fill="#8C6BB1"/>
<circle cx="1479.5" cy="217" r="5.9" fill="#984EA3"/>
<circle cx="1380" cy="285" r="5.9" fill="#984EA3"/>
<circle cx="1411.25" cy="324.5" r="5.9" fill="#984EA3"/>
<circle cx="1447.5" cy="291.75" r="5.9" fill="#984EA3"/>
<circle cx="1482.5" cy="287" r="5.9" fill="#984EA3"/>
<circle cx="1381.75" cy="213" r="5.9" fill="#C7E9C0"/>
<circle cx="1367" cy="252" r="5.9" fill="#C7E9C0"/>
<circle cx="1400.5" cy="252" r="5.9" fill="#C7E9C0"/>
<circle cx="1338.75" cy="308.75" r="5.9" fill="#C7E9C0"/>
<circle cx="1415.5" cy="267" r="5.9" fill="#C7E9C0"/>
<circle cx="1571.75" cy="128" r="5.9" fill="#A1D99B"/>
<circle cx="1515" cy="160" r="5.9" fill="#A1D99B"/>
<circle cx="1535" cy="160.75" r="5.9" fill="#A1D99B"/>
<circle cx="1430" cy="182.5" r="5.9" fill="#A1D99B"/>
<circle cx="1395.75" cy="195.5" r="5.9" fill="#A1D99B"/>
<circle cx="1314.25" cy="114.25" r="5.9" fill="#74C476"/>
<circle cx="1319.25" cy="133.75" r="5.9" fill="#74C476"/>
<circle cx="1373.75" cy="140.5" r="5.9" fill="#74C476"/>
<circle cx="1408.75" cy="192" r="5.9" fill="#74C476"/>
<circle cx="1433" cy="216.25" r="5.9" fill="#74C476"/>
<circle cx="1165.75" cy="318.75" r="5.9" fill="#4DAF4A"/>
<circle cx="1219.25" cy="275" r="5.9" fill="#4DAF4A"/>
<circle cx="1238.75" cy="288.25" r="5.9" fill="#4DAF4A"/>
<circle cx="1220.5" cy="300" r="5.9" fill="#4DAF4A"/>
<circle cx="1220.5" cy="311.75" r="5.9" fill="#4DAF4A"/>
<circle cx="1177" cy="181.25" r="5.9" fill="#FDAE6B"/>
<circle cx="1199.25" cy="195.5" r="5.9" fill="#FDAE6B"/>
<circle cx="1225.75" cy="145.75" r="5.9" fill="#FDAE6B"/>
<circle cx="1288.75" cy="137.5" r="5.9" fill="#FDAE6B"/>
<circle cx="1322.5" cy="165.5" r="5.9" fill="#FDAE6B"/>
<circle cx="1578.25" cy="103.25" r="5.9" fill="#FF7F00"/>
<circle cx="1625.75" cy="119.25" r="5.9" fill="#FF7F00"/>
<circle cx="1624.25" cy="133" r="5.9" fill="#FF7F00"/>
<circle cx="1648.25" cy="129.25" r="5.9" fill="#FF7F00"/>
<circle cx="1708.25" cy="118" r="5.9" fill="#FF7F00"/>
<circle cx="1232.5" cy="128.75" r="5.9" fill="#FCC5C0"/>
<circle cx="1197" cy="151.75" r="5.9" fill="#FCC5C0"/>
<circle cx="1214.5" cy="188" r="5.9" fill="#FCC5C0"/>
<circle cx="1270" cy="136.25" r="5.9" fill="#FCC5C0"/>
<circle cx="1263.75" cy="148" r="5.9" fill="#FCC5C0"/>
<circle cx="1253" cy="168" r="5.9" fill="#FA9FB5"/>
<circle cx="1324.25" cy="143.75" r="5.9" fill="#FA9FB5"/>
<circle cx="1353.75" cy="160.5" r="5.9" fill="#FA9FB5"/>
<circle cx="1339.25" cy="198" r="5.9" fill="#FA9FB5"/>
<circle cx="1305" cy="158" r="5.9" fill="#FA9FB5"/>
<circle cx="1416.25" cy="239.5" r="5.9" fill="#F781BF"/>
<circle cx="1480.5" cy="226.25" r="5.9" fill="#F781BF"/>
<circle cx="1467" cy="270.75" r="5.9" fill="#F781BF"/>
<circle cx="1509.25" cy="282.5" r="5.9" fill="#F781BF"/>
<circle cx="1483.75" cy="288" r="5.9" fill="#F781BF"/>
<circle cx="1257" cy="155" r="5.9" fill="#C0479D"/>
<circle cx="1352.5" cy="148.75" r="5.9" fill="#C0479D"/>
<circle cx="1318.75" cy="223.25" r="5.9" fill="#C0479D"/>
<circle cx="1312.5" cy="182.5" r="5.9" fill="#C0479D"/>
<path d="M1241.75 447.5L1308.75 413.75L1419.5 442.75L1320 450Z" fill="#FB6A4A" fill-opacity="0.4" stroke="#FB6A4A" stroke-opacity="0.5" stroke-width="2.8" stroke-linejoin="round"/>
<path d="M1358.75 324.5L1418.75 323L1456.25 349.25L1408 358.75Z" fill="#E31A1C" fill-opacity="0.4" stroke="#E31A1C" stroke-opacity="0.5" stroke-width="2.8" stroke-linejoin="round"/>
<path d="M1450 335L1523.25 329.25L1507.5 355Z" fill="#9ECAE1" fill-opacity="0.4" stroke="#9ECAE1" stroke-opacity="0.5" stroke-width="2.8" stroke-linejoin="round"/>
<path d="M1332.5 303L1357.5 260.75L1411.25 296.25L1434.25 318.75L1352.5 345.5Z" fill="#6BAED6" fill-opacity="0.4" stroke="#6BAED6" stroke-opacity="0.5" stroke-width="2.8" stroke-linejoin="round"/>
<path d="M1374.5 414.25L1519.25 343.25L1536.25 357Z" fill="#2171B5" fill-opacity="0.4" stroke="#2171B5" stroke-opacity="0.5" stroke-width="2.8" stroke-linejoin="round"/>
<path d="M1413.75 269.5L1486.75 307.5L1490.5 339.25L1422.5 356.75L1414.5 343.25Z" fill="#B15928" fill-opacity="0.4" stroke="#B15928" stroke-opacity="0.5" stroke-width="2.8" stroke-linejoin="round"/>
<path d="M1477.5 321.75L1497 309.5L1528 300L1548.25 303.75L1486.25 338.75Z" fill="#F0E442" fill-opacity="0.4" stroke="#F0E442" stroke-opacity="0.5" stroke-width="2.8" stroke-linejoin="round"/>
<path d="M1417.5 267.5L1550.75 215.5L1568 216.75L1516.25 252.5L1480.5 266.25Z" fill="#BCBDDC" fill-opacity="0.4" stroke="#BCBDDC" stroke-opacity="0.5" stroke-width="2.8" stroke-linejoin="round"/>
<path d="M1527 246.25L1556.75 225L1605 227L1565.75 260.75Z" fill="#8C6BB1" fill-opacity="0.4" stroke="#8C6BB1" stroke-opacity="0.5" stroke-width="2.8" stroke-linejoin="round"/>
<path d="M1380 285L1479.5 217L1482.5 287L1411.25 324.5Z" fill="#984EA3" fill-opacity="0.4" stroke="#984EA3" stroke-opacity="0.5" stroke-width="2.8" stroke-linejoin="round"/>
<path d="M1338.75 308.75L1381.75 213L1415.5 267Z" fill="#C7E9C0" fill-opacity="0.4" stroke="#C7E9C0" stroke-opacity="0.5" stroke-width="2.8" stroke-linejoin="round"/>
<path d="M1395.75 195.5L1571.75 128L1535 160.75Z" fill="#A1D99B" fill-opacity="0.4" stroke="#A1D99B" stroke-opacity="0.5" stroke-width="2.8" stroke-linejoin="round"/>
<path d="M1314.25 114.25L1373.75 140.5L1433 216.25L1319.25 133.75Z" fill="#74C476" fill-opacity="0.4" stroke="#74C476" stroke-opacity="0.5" stroke-width="2.8" stroke-linejoin="round"/>
<path d="M1165.75 318.75L1219.25 275L1238.75 288.25L1220.5 311.75Z" fill="#4DAF4A" fill-opacity="0.4" stroke="#4DAF4A" stroke-opacity="0.5" stroke-width="2.8" stroke-linejoin="round"/>
<path d="M1177 181.25L1225.75 145.75L1288.75 137.5L1322.5 165.5L1199.25 195.5Z" fill="#FDAE6B" fill-opacity="0.4" stroke="#FDAE6B" stroke-opacity="0.5" stroke-width="2.8" stroke-linejoin="round"/>
<path d="M1578.25 103.25L1708.25 118L1648.25 129.25L1624.25 133Z" fill="#FF7F00" fill-opacity="0.4" stroke="#FF7F00" stroke-opacity="0.5" stroke-width="2.8" stroke-linejoin="round"/>
<path d="M1197 151.75L1232.5 128.75L1270 136.25L1263.75 148L1214.5 188Z" fill="#FCC5C0" fill-opacity="0.4" stroke="#FCC5C0" stroke-opacity="0.5" stroke-width="2.8" stroke-linejoin="round"/>
<path d="M1253 168L1324.25 143.75L1353.75 160.5L1339.25 198Z" fill="#FA9FB5" fill-opacity="0.4" stroke="#FA9FB5" stroke-opacity="0.5" stroke-width="2.8" stroke-linejoin="round"/>
<path d="M1416.25 239.5L1480.5 226.25L1509.25 282.5L1483.75 288Z" fill="#F781BF" fill-opacity="0.4" stroke="#F781BF" stroke-opacity="0.5" stroke-width="2.8" stroke-linejoin="round"/>
<path d="M1257 155L1352.5 148.75L1318.75 223.25Z" fill="#C0479D" fill-opacity="0.4" stroke="#C0479D" stroke-opacity="0.5" stroke-width="2.8" stroke-linejoin="round"/>
<rect x="1100" y="9.5" width="621.5" height="489.9" fill="none" stroke="#000" stroke-width="3.3"/>
<text x="968" y="652.7" font-size="33.3" font-weight="bold">(d)</text>
<text transform="translate(995,876.6) rotate(-90)" font-size="29.3" text-anchor="middle">PCoA 2 (17.91%)</text>
<line x1="1087.15" x2="1100" y1="632.5" y2="632.5" stroke="#000" stroke-width="3.1"/>
<text x="1077.1" y="641.4" font-size="25" text-anchor="end">0.10</text>
<line x1="1087.15" x2="1100" y1="754.98" y2="754.98" stroke="#000" stroke-width="3.1"/>
<text x="1077.1" y="763.88" font-size="25" text-anchor="end">0.05</text>
<line x1="1087.15" x2="1100" y1="877.45" y2="877.45" stroke="#000" stroke-width="3.1"/>
<text x="1077.1" y="886.35" font-size="25" text-anchor="end">0.00</text>
<line x1="1087.15" x2="1100" y1="999.92" y2="999.92" stroke="#000" stroke-width="3.1"/>
<text x="1077.1" y="1008.82" font-size="25" text-anchor="end">−0.05</text>
<line x1="1087.15" x2="1100" y1="1122.4" y2="1122.4" stroke="#000" stroke-width="3.1"/>
<text x="1077.1" y="1131.3" font-size="25" text-anchor="end">−0.10</text>
<line x1="1100" x2="1100" y1="1122.4" y2="1135.25" stroke="#000" stroke-width="3.1"/>
<text x="1100" y="1162.3" font-size="25" text-anchor="middle">−0.25</text>
<line x1="1224.3" x2="1224.3" y1="1122.4" y2="1135.25" stroke="#000" stroke-width="3.1"/>
<text x="1224.3" y="1162.3" font-size="25" text-anchor="middle">−0.15</text>
<line x1="1348.6" x2="1348.6" y1="1122.4" y2="1135.25" stroke="#000" stroke-width="3.1"/>
<text x="1348.6" y="1162.3" font-size="25" text-anchor="middle">−0.05</text>
<line x1="1472.9" x2="1472.9" y1="1122.4" y2="1135.25" stroke="#000" stroke-width="3.1"/>
<text x="1472.9" y="1162.3" font-size="25" text-anchor="middle">0.05</text>
<line x1="1597.2" x2="1597.2" y1="1122.4" y2="1135.25" stroke="#000" stroke-width="3.1"/>
<text x="1597.2" y="1162.3" font-size="25" text-anchor="middle">0.15</text>
<line x1="1721.5" x2="1721.5" y1="1122.4" y2="1135.25" stroke="#000" stroke-width="3.1"/>
<text x="1721.5" y="1162.3" font-size="25" text-anchor="middle">0.25</text>
<text x="1410.3" y="1206" font-size="29.3" text-anchor="middle">PCoA 1 (65.57%)</text>
<path d="M1098.5 877.45H1721.5" stroke="#999" stroke-width="7.4" stroke-dasharray="7.3 21.15" fill="none"/>
<path d="M1410.1 631.65V1122.4" stroke="#999" stroke-width="7.4" stroke-dasharray="7.3 21.15" fill="none"/>
<text x="1117.5" y="667" font-size="25" font-weight="bold">N-cycling genes</text>
<text x="1117.5" y="702.9" font-size="24.87">PERMANOVA: <tspan font-style="italic">R</tspan><tspan font-size="15" dy="-10.6">2</tspan><tspan dy="10.6"> = 0.85, </tspan><tspan font-style="italic">P</tspan> = 0.001</text>
<circle cx="1254.25" cy="1056.75" r="5.9" fill="#FB6A4A"/>
<circle cx="1272.5" cy="1052.25" r="5.9" fill="#FB6A4A"/>
<circle cx="1307" cy="1061" r="5.9" fill="#FB6A4A"/>
<circle cx="1321.25" cy="1054.25" r="5.9" fill="#FB6A4A"/>
<circle cx="1415" cy="1087.25" r="5.9" fill="#FB6A4A"/>
<circle cx="1476.75" cy="987.5" r="5.9" fill="#E31A1C"/>
<circle cx="1391.25" cy="1010" r="5.9" fill="#E31A1C"/>
<circle cx="1493" cy="1021.25" r="5.9" fill="#E31A1C"/>
<circle cx="1439.25" cy="1023.5" r="5.9" fill="#E31A1C"/>
<circle cx="1453.25" cy="1026.75" r="5.9" fill="#E31A1C"/>
<circle cx="1534.5" cy="1012.5" r="5.9" fill="#9ECAE1"/>
<circle cx="1524.5" cy="1023.5" r="5.9" fill="#9ECAE1"/>
<circle cx="1518" cy="1033.5" r="5.9" fill="#9ECAE1"/>
<circle cx="1496.75" cy="1048.5" r="5.9" fill="#9ECAE1"/>
<circle cx="1457" cy="1046.75" r="5.9" fill="#9ECAE1"/>
<circle cx="1371.75" cy="1018.75" r="5.9" fill="#6BAED6"/>
<circle cx="1414.25" cy="1017.25" r="5.9" fill="#6BAED6"/>
<circle cx="1454.25" cy="1012.5" r="5.9" fill="#6BAED6"/>
<circle cx="1460.5" cy="1030" r="5.9" fill="#6BAED6"/>
<circle cx="1381.75" cy="1040.5" r="5.9" fill="#6BAED6"/>
<circle cx="1321.25" cy="1004.25" r="5.9" fill="#2171B5"/>
<circle cx="1490" cy="994.25" r="5.9" fill="#2171B5"/>
<circle cx="1493" cy="1015.5" r="5.9" fill="#2171B5"/>
<circle cx="1350.75" cy="922.5" r="5.9" fill="#B15928"/>
<circle cx="1397.5" cy="898.5" r="5.9" fill="#B15928"/>
<circle cx="1470.75" cy="902.5" r="5.9" fill="#B15928"/>
<circle cx="1451.75" cy="930.5" r="5.9" fill="#B15928"/>
<circle cx="1383.75" cy="963.5" r="5.9" fill="#B15928"/>
<circle cx="1471.25" cy="902.5" r="5.9" fill="#F0E442"/>
<circle cx="1470.5" cy="917.25" r="5.9" fill="#F0E442"/>
<circle cx="1453" cy="941.75" r="5.9" fill="#F0E442"/>
<circle cx="1418" cy="949.25" r="5.9" fill="#F0E442"/>
<circle cx="1553.75" cy="776.75" r="5.9" fill="#BCBDDC"/>
<circle cx="1428.75" cy="791" r="5.9" fill="#BCBDDC"/>
<circle cx="1521.25" cy="805.5" r="5.9" fill="#BCBDDC"/>
<circle cx="1480" cy="848.5" r="5.9" fill="#BCBDDC"/>
<circle cx="1442.5" cy="819.25" r="5.9" fill="#BCBDDC"/>
<circle cx="1528" cy="782.25" r="5.9" fill="#8C6BB1"/>
<circle cx="1511.75" cy="804.25" r="5.9" fill="#8C6BB1"/>
<circle cx="1481.75" cy="828.5" r="5.9" fill="#8C6BB1"/>
<circle cx="1539.25" cy="889.75" r="5.9" fill="#8C6BB1"/>
<circle cx="1584.5" cy="783" r="5.9" fill="#8C6BB1"/>
<circle cx="1362.5" cy="885" r="5.9" fill="#984EA3"/>
<circle cx="1374.5" cy="920" r="5.9" fill="#984EA3"/>
<circle cx="1455.5" cy="876.75" r="5.9" fill="#984EA3"/>
<circle cx="1434.5" cy="874.25" r="5.9" fill="#984EA3"/>
<circle cx="1458.75" cy="820.5" r="5.9" fill="#984EA3"/>
<circle cx="1330.75" cy="866" r="5.9" fill="#C7E9C0"/>
<circle cx="1373.75" cy="854.25" r="5.9" fill="#C7E9C0"/>
<circle cx="1388" cy="845" r="5.9" fill="#C7E9C0"/>
<circle cx="1377.5" cy="821.75" r="5.9" fill="#C7E9C0"/>
<circle cx="1396.25" cy="875.5" r="5.9" fill="#C7E9C0"/>
<circle cx="1397.5" cy="833" r="5.9" fill="#C7E9C0"/>
<circle cx="1575" cy="785.5" r="5.9" fill="#A1D99B"/>
<circle cx="1535.5" cy="804.75" r="5.9" fill="#A1D99B"/>
<circle cx="1519.25" cy="823" r="5.9" fill="#A1D99B"/>
<circle cx="1417.5" cy="850" r="5.9" fill="#A1D99B"/>
<circle cx="1398.75" cy="856.75" r="5.9" fill="#A1D99B"/>
<circle cx="1384.5" cy="802.25" r="5.9" fill="#74C476"/>
<circle cx="1375" cy="814.75" r="5.9" fill="#74C476"/>
<circle cx="1378.25" cy="821.25" r="5.9" fill="#74C476"/>
<circle cx="1427.5" cy="832.5" r="5.9" fill="#74C476"/>
<circle cx="1418" cy="850.5" r="5.9" fill="#74C476"/>
<circle cx="1189.25" cy="888" r="5.9" fill="#4DAF4A"/>
<circle cx="1212.5" cy="897.25" r="5.9" fill="#4DAF4A"/>
<circle cx="1237" cy="861.75" r="5.9" fill="#4DAF4A"/>
<circle cx="1243.75" cy="859.25" r="5.9" fill="#4DAF4A"/>
<circle cx="1240" cy="860.5" r="5.9" fill="#4DAF4A"/>
<circle cx="1262.5" cy="833.75" r="5.9" fill="#FDAE6B"/>
<circle cx="1299.25" cy="817.25" r="5.9" fill="#FDAE6B"/>
<circle cx="1355.75" cy="831" r="5.9" fill="#FDAE6B"/>
<circle cx="1358.75" cy="843" r="5.9" fill="#FDAE6B"/>
<circle cx="1266.25" cy="850" r="5.9" fill="#FDAE6B"/>
<circle cx="1571.25" cy="733.75" r="5.9" fill="#FF7F00"/>
<circle cx="1598.75" cy="743.75" r="5.9" fill="#FF7F00"/>
<circle cx="1668.75" cy="760.5" r="5.9" fill="#FF7F00"/>
<circle cx="1615" cy="801" r="5.9" fill="#FF7F00"/>
<circle cx="1580" cy="802.25" r="5.9" fill="#FF7F00"/>
<circle cx="1275" cy="838" r="5.9" fill="#FCC5C0"/>
<circle cx="1288.25" cy="837.5" r="5.9" fill="#FCC5C0"/>
<circle cx="1316.75" cy="841.75" r="5.9" fill="#FCC5C0"/>
<circle cx="1331.25" cy="836.75" r="5.9" fill="#FCC5C0"/>
<circle cx="1347.5" cy="855" r="5.9" fill="#FCC5C0"/>
<circle cx="1345" cy="692.5" r="5.9" fill="#FA9FB5"/>
<circle cx="1328.75" cy="728.75" r="5.9" fill="#FA9FB5"/>
<circle cx="1351.25" cy="740.5" r="5.9" fill="#FA9FB5"/>
<circle cx="1325.5" cy="745" r="5.9" fill="#FA9FB5"/>
<circle cx="1286.75" cy="770" r="5.9" fill="#FA9FB5"/>
<circle cx="1391.25" cy="796" r="5.9" fill="#F781BF"/>
<circle cx="1437" cy="785" r="5.9" fill="#F781BF"/>
<circle cx="1458" cy="805.5" r="5.9" fill="#F781BF"/>
<circle cx="1426.25" cy="808" r="5.9" fill="#F781BF"/>
<circle cx="1439.25" cy="829.25" r="5.9" fill="#F781BF"/>
<circle cx="1265.5" cy="711.25" r="5.9" fill="#C0479D"/>
<circle cx="1285.75" cy="706.75" r="5.9" fill="#C0479D"/>
<circle cx="1308.75" cy="717.5" r="5.9" fill="#C0479D"/>
<circle cx="1345.5" cy="703.75" r="5.9" fill="#C0479D"/>
<path d="M1254.25 1056.75L1272.5 1052.25L1321.25 1054.25L1415 1087.25Z" fill="#FB6A4A" fill-opacity="0.4" stroke="#FB6A4A" stroke-opacity="0.5" stroke-width="2.8" stroke-linejoin="round"/>
<path d="M1391.25 1010L1476.75 987.5L1493 1021.25L1453.25 1026.75L1439.25 1023.5Z" fill="#E31A1C" fill-opacity="0.4" stroke="#E31A1C" stroke-opacity="0.5" stroke-width="2.8" stroke-linejoin="round"/>
<path d="M1457 1046.75L1534.5 1012.5L1518 1033.5L1496.75 1048.5Z" fill="#9ECAE1" fill-opacity="0.4" stroke="#9ECAE1" stroke-opacity="0.5" stroke-width="2.8" stroke-linejoin="round"/>
<path d="M1371.75 1018.75L1454.25 1012.5L1460.5 1030L1381.75 1040.5Z" fill="#6BAED6" fill-opacity="0.4" stroke="#6BAED6" stroke-opacity="0.5" stroke-width="2.8" stroke-linejoin="round"/>
<path d="M1321.25 1004.25L1490 994.25L1493 1015.5Z" fill="#2171B5" fill-opacity="0.4" stroke="#2171B5" stroke-opacity="0.5" stroke-width="2.8" stroke-linejoin="round"/>
<path d="M1350.75 922.5L1397.5 898.5L1470.75 902.5L1451.75 930.5L1383.75 963.5Z" fill="#B15928" fill-opacity="0.4" stroke="#B15928" stroke-opacity="0.5" stroke-width="2.8" stroke-linejoin="round"/>
<path d="M1418 949.25L1471.25 902.5L1470.5 917.25L1453 941.75Z" fill="#F0E442" fill-opacity="0.4" stroke="#F0E442" stroke-opacity="0.5" stroke-width="2.8" stroke-linejoin="round"/>
<path d="M1428.75 791L1553.75 776.75L1480 848.5L1442.5 819.25Z" fill="#BCBDDC" fill-opacity="0.4" stroke="#BCBDDC" stroke-opacity="0.5" stroke-width="2.8" stroke-linejoin="round"/>
<path d="M1481.75 828.5L1528 782.25L1584.5 783L1539.25 889.75Z" fill="#8C6BB1" fill-opacity="0.4" stroke="#8C6BB1" stroke-opacity="0.5" stroke-width="2.8" stroke-linejoin="round"/>
<path d="M1362.5 885L1458.75 820.5L1455.5 876.75L1374.5 920Z" fill="#984EA3" fill-opacity="0.4" stroke="#984EA3" stroke-opacity="0.5" stroke-width="2.8" stroke-linejoin="round"/>
<path d="M1330.75 866L1377.5 821.75L1397.5 833L1396.25 875.5Z" fill="#C7E9C0" fill-opacity="0.4" stroke="#C7E9C0" stroke-opacity="0.5" stroke-width="2.8" stroke-linejoin="round"/>
<path d="M1398.75 856.75L1575 785.5L1519.25 823Z" fill="#A1D99B" fill-opacity="0.4" stroke="#A1D99B" stroke-opacity="0.5" stroke-width="2.8" stroke-linejoin="round"/>
<path d="M1375 814.75L1384.5 802.25L1427.5 832.5L1418 850.5L1378.25 821.25Z" fill="#74C476" fill-opacity="0.4" stroke="#74C476" stroke-opacity="0.5" stroke-width="2.8" stroke-linejoin="round"/>
<path d="M1189.25 888L1237 861.75L1240 860.5L1243.75 859.25L1212.5 897.25Z" fill="#4DAF4A" fill-opacity="0.4" stroke="#4DAF4A" stroke-opacity="0.5" stroke-width="2.8" stroke-linejoin="round"/>
<path d="M1262.5 833.75L1299.25 817.25L1355.75 831L1358.75 843L1266.25 850Z" fill="#FDAE6B" fill-opacity="0.4" stroke="#FDAE6B" stroke-opacity="0.5" stroke-width="2.8" stroke-linejoin="round"/>
<path d="M1571.25 733.75L1668.75 760.5L1615 801L1580 802.25Z" fill="#FF7F00" fill-opacity="0.4" stroke="#FF7F00" stroke-opacity="0.5" stroke-width="2.8" stroke-linejoin="round"/>
<path d="M1275 838L1288.25 837.5L1331.25 836.75L1347.5 855Z" fill="#FCC5C0" fill-opacity="0.4" stroke="#FCC5C0" stroke-opacity="0.5" stroke-width="2.8" stroke-linejoin="round"/>
<path d="M1286.75 770L1345 692.5L1351.25 740.5Z" fill="#FA9FB5" fill-opacity="0.4" stroke="#FA9FB5" stroke-opacity="0.5" stroke-width="2.8" stroke-linejoin="round"/>
<path d="M1391.25 796L1437 785L1458 805.5L1439.25 829.25Z" fill="#F781BF" fill-opacity="0.4" stroke="#F781BF" stroke-opacity="0.5" stroke-width="2.8" stroke-linejoin="round"/>
<path d="M1265.5 711.25L1285.75 706.75L1345.5 703.75L1308.75 717.5Z" fill="#C0479D" fill-opacity="0.4" stroke="#C0479D" stroke-opacity="0.5" stroke-width="2.8" stroke-linejoin="round"/>
<rect x="1100" y="632.5" width="621.5" height="489.9" fill="none" stroke="#000" stroke-width="3.3"/>
<text x="968" y="1273.9" font-size="33.3" font-weight="bold">(f)</text>
<text transform="translate(995,1499.6) rotate(-90)" font-size="29.3" text-anchor="middle">PCoA 2 (11.4%)</text>
<line x1="1087.15" x2="1100" y1="1255.5" y2="1255.5" stroke="#000" stroke-width="3.1"/>
<text x="1077.1" y="1264.4" font-size="25" text-anchor="end">0.06</text>
<line x1="1087.15" x2="1100" y1="1377.97" y2="1377.97" stroke="#000" stroke-width="3.1"/>
<text x="1077.1" y="1386.88" font-size="25" text-anchor="end">0.03</text>
<line x1="1087.15" x2="1100" y1="1500.45" y2="1500.45" stroke="#000" stroke-width="3.1"/>
<text x="1077.1" y="1509.35" font-size="25" text-anchor="end">0.00</text>
<line x1="1087.15" x2="1100" y1="1622.92" y2="1622.92" stroke="#000" stroke-width="3.1"/>
<text x="1077.1" y="1631.83" font-size="25" text-anchor="end">−0.03</text>
<line x1="1087.15" x2="1100" y1="1745.4" y2="1745.4" stroke="#000" stroke-width="3.1"/>
<text x="1077.1" y="1754.3" font-size="25" text-anchor="end">−0.06</text>
<line x1="1100" x2="1100" y1="1745.4" y2="1758.25" stroke="#000" stroke-width="3.1"/>
<text x="1100" y="1785.3" font-size="25" text-anchor="middle">−0.15</text>
<line x1="1203.58" x2="1203.58" y1="1745.4" y2="1758.25" stroke="#000" stroke-width="3.1"/>
<text x="1203.58" y="1785.3" font-size="25" text-anchor="middle">−0.10</text>
<line x1="1307.17" x2="1307.17" y1="1745.4" y2="1758.25" stroke="#000" stroke-width="3.1"/>
<text x="1307.17" y="1785.3" font-size="25" text-anchor="middle">−0.05</text>
<line x1="1410.75" x2="1410.75" y1="1745.4" y2="1758.25" stroke="#000" stroke-width="3.1"/>
<text x="1410.75" y="1785.3" font-size="25" text-anchor="middle">0.00</text>
<line x1="1514.33" x2="1514.33" y1="1745.4" y2="1758.25" stroke="#000" stroke-width="3.1"/>
<text x="1514.33" y="1785.3" font-size="25" text-anchor="middle">0.05</text>
<line x1="1617.92" x2="1617.92" y1="1745.4" y2="1758.25" stroke="#000" stroke-width="3.1"/>
<text x="1617.92" y="1785.3" font-size="25" text-anchor="middle">0.10</text>
<line x1="1721.5" x2="1721.5" y1="1745.4" y2="1758.25" stroke="#000" stroke-width="3.1"/>
<text x="1721.5" y="1785.3" font-size="25" text-anchor="middle">0.15</text>
<text x="1410.3" y="1829" font-size="29.3" text-anchor="middle">PCoA 1 (70.04%)</text>
<path d="M1098.5 1500.45H1721.5" stroke="#999" stroke-width="7.4" stroke-dasharray="7.3 21.15" fill="none"/>
<path d="M1410.1 1254.65V1745.4" stroke="#999" stroke-width="7.4" stroke-dasharray="7.3 21.15" fill="none"/>
<text x="1117.5" y="1290" font-size="25" font-weight="bold">P-cycling genes</text>
<text x="1117.5" y="1325.9" font-size="24.87">PERMANOVA: <tspan font-style="italic">R</tspan><tspan font-size="15" dy="-10.6">2</tspan><tspan dy="10.6"> = 0.85, </tspan><tspan font-style="italic">P</tspan> = 0.001</text>
<circle cx="1230.75" cy="1698" r="5.9" fill="#FB6A4A"/>
<circle cx="1269.25" cy="1693" r="5.9" fill="#FB6A4A"/>
<circle cx="1307" cy="1668.5" r="5.9" fill="#FB6A4A"/>
<circle cx="1316.25" cy="1704" r="5.9" fill="#FB6A4A"/>
<circle cx="1399.5" cy="1686.5" r="5.9" fill="#FB6A4A"/>
<circle cx="1351.75" cy="1547.75" r="5.9" fill="#E31A1C"/>
<circle cx="1400.75" cy="1539.75" r="5.9" fill="#E31A1C"/>
<circle cx="1386.25" cy="1586.5" r="5.9" fill="#E31A1C"/>
<circle cx="1419.25" cy="1564.75" r="5.9" fill="#E31A1C"/>
<circle cx="1433.75" cy="1567.75" r="5.9" fill="#E31A1C"/>
<circle cx="1420" cy="1571.5" r="5.9" fill="#9ECAE1"/>
<circle cx="1462.5" cy="1575.5" r="5.9" fill="#9ECAE1"/>
<circle cx="1500" cy="1574.75" r="5.9" fill="#9ECAE1"/>
<circle cx="1467.5" cy="1552.25" r="5.9" fill="#9ECAE1"/>
<circle cx="1490" cy="1568.5" r="5.9" fill="#9ECAE1"/>
<circle cx="1335.5" cy="1464" r="5.9" fill="#6BAED6"/>
<circle cx="1318" cy="1500.25" r="5.9" fill="#6BAED6"/>
<circle cx="1329.25" cy="1526.75" r="5.9" fill="#6BAED6"/>
<circle cx="1393.75" cy="1498" r="5.9" fill="#6BAED6"/>
<circle cx="1400" cy="1528.5" r="5.9" fill="#6BAED6"/>
<circle cx="1387" cy="1694.25" r="5.9" fill="#2171B5"/>
<circle cx="1501.25" cy="1614" r="5.9" fill="#2171B5"/>
<circle cx="1532.5" cy="1643" r="5.9" fill="#2171B5"/>
<circle cx="1423" cy="1525.5" r="5.9" fill="#B15928"/>
<circle cx="1470" cy="1534" r="5.9" fill="#B15928"/>
<circle cx="1475.75" cy="1592.25" r="5.9" fill="#B15928"/>
<circle cx="1427" cy="1631.5" r="5.9" fill="#B15928"/>
<circle cx="1414.25" cy="1609" r="5.9" fill="#B15928"/>
<circle cx="1539.5" cy="1564" r="5.9" fill="#F0E442"/>
<circle cx="1560.5" cy="1579.75" r="5.9" fill="#F0E442"/>
<circle cx="1483" cy="1581.75" r="5.9" fill="#F0E442"/>
<circle cx="1497.5" cy="1588" r="5.9" fill="#F0E442"/>
<circle cx="1504.25" cy="1612.75" r="5.9" fill="#F0E442"/>
<circle cx="1552.5" cy="1425.5" r="5.9" fill="#BCBDDC"/>
<circle cx="1446.25" cy="1474" r="5.9" fill="#BCBDDC"/>
<circle cx="1514.25" cy="1499.75" r="5.9" fill="#BCBDDC"/>
<circle cx="1538.75" cy="1477.25" r="5.9" fill="#BCBDDC"/>
<circle cx="1482.5" cy="1521" r="5.9" fill="#BCBDDC"/>
<circle cx="1538" cy="1443.5" r="5.9" fill="#8C6BB1"/>
<circle cx="1541.25" cy="1449" r="5.9" fill="#8C6BB1"/>
<circle cx="1576.25" cy="1452.75" r="5.9" fill="#8C6BB1"/>
<circle cx="1535.5" cy="1488" r="5.9" fill="#8C6BB1"/>
<circle cx="1545" cy="1503.5" r="5.9" fill="#8C6BB1"/>
<circle cx="1488.25" cy="1466.75" r="5.9" fill="#984EA3"/>
<circle cx="1380" cy="1521.5" r="5.9" fill="#984EA3"/>
<circle cx="1419.25" cy="1576" r="5.9" fill="#984EA3"/>
<circle cx="1447.5" cy="1527.25" r="5.9" fill="#984EA3"/>
<circle cx="1483.75" cy="1520.25" r="5.9" fill="#984EA3"/>
<circle cx="1388" cy="1478.5" r="5.9" fill="#C7E9C0"/>
<circle cx="1338.75" cy="1547.75" r="5.9" fill="#C7E9C0"/>
<circle cx="1362.5" cy="1509.75" r="5.9" fill="#C7E9C0"/>
<circle cx="1423.75" cy="1519.75" r="5.9" fill="#C7E9C0"/>
<circle cx="1402.5" cy="1518.5" r="5.9" fill="#C7E9C0"/>
<circle cx="1513" cy="1401" r="5.9" fill="#A1D99B"/>
<circle cx="1575.5" cy="1403.5" r="5.9" fill="#A1D99B"/>
<circle cx="1530" cy="1420.5" r="5.9" fill="#A1D99B"/>
<circle cx="1430.75" cy="1429" r="5.9" fill="#A1D99B"/>
<circle cx="1418.75" cy="1427.75" r="5.9" fill="#A1D99B"/>
<circle cx="1337.5" cy="1372.25" r="5.9" fill="#74C476"/>
<circle cx="1406.25" cy="1386.75" r="5.9" fill="#74C476"/>
<circle cx="1347" cy="1424" r="5.9" fill="#74C476"/>
<circle cx="1413" cy="1449.75" r="5.9" fill="#74C476"/>
<circle cx="1430" cy="1450.25" r="5.9" fill="#74C476"/>
<circle cx="1196.75" cy="1546" r="5.9" fill="#4DAF4A"/>
<circle cx="1230.75" cy="1531" r="5.9" fill="#4DAF4A"/>
<circle cx="1251.25" cy="1514" r="5.9" fill="#4DAF4A"/>
<circle cx="1256.25" cy="1539.75" r="5.9" fill="#4DAF4A"/>
<circle cx="1250.75" cy="1562.75" r="5.9" fill="#4DAF4A"/>
<circle cx="1194.25" cy="1407.25" r="5.9" fill="#FDAE6B"/>
<circle cx="1242.5" cy="1369" r="5.9" fill="#FDAE6B"/>
<circle cx="1296.25" cy="1393.5" r="5.9" fill="#FDAE6B"/>
<circle cx="1215.5" cy="1461" r="5.9" fill="#FDAE6B"/>
<circle cx="1333.75" cy="1425.5" r="5.9" fill="#FDAE6B"/>
<circle cx="1545.75" cy="1370.25" r="5.9" fill="#FF7F00"/>
<circle cx="1627.5" cy="1346.75" r="5.9" fill="#FF7F00"/>
<circle cx="1702" cy="1379.25" r="5.9" fill="#FF7F00"/>
<circle cx="1632" cy="1423.5" r="5.9" fill="#FF7F00"/>
<circle cx="1610" cy="1387.25" r="5.9" fill="#FF7F00"/>
<circle cx="1272.5" cy="1361" r="5.9" fill="#FCC5C0"/>
<circle cx="1243.75" cy="1379.75" r="5.9" fill="#FCC5C0"/>
<circle cx="1273.75" cy="1378.5" r="5.9" fill="#FCC5C0"/>
<circle cx="1216.25" cy="1390.25" r="5.9" fill="#FCC5C0"/>
<circle cx="1240.75" cy="1454.25" r="5.9" fill="#FCC5C0"/>
<circle cx="1361.25" cy="1356" r="5.9" fill="#FA9FB5"/>
<circle cx="1346.25" cy="1381.5" r="5.9" fill="#FA9FB5"/>
<circle cx="1345.75" cy="1406" r="5.9" fill="#FA9FB5"/>
<circle cx="1273.25" cy="1410.25" r="5.9" fill="#FA9FB5"/>
<circle cx="1333.75" cy="1425.5" r="5.9" fill="#FA9FB5"/>
<circle cx="1425.75" cy="1502.75" r="5.9" fill="#F781BF"/>
<circle cx="1486.25" cy="1519.75" r="5.9" fill="#F781BF"/>
<circle cx="1518" cy="1556.75" r="5.9" fill="#F781BF"/>
<circle cx="1493.75" cy="1568.5" r="5.9" fill="#F781BF"/>
<circle cx="1466.25" cy="1563.5" r="5.9" fill="#F781BF"/>
<circle cx="1279.5" cy="1421.5" r="5.9" fill="#C0479D"/>
<circle cx="1363.25" cy="1431.5" r="5.9" fill="#C0479D"/>
<circle cx="1330.75" cy="1438.5" r="5.9" fill="#C0479D"/>
<circle cx="1317.5" cy="1448.5" r="5.9" fill="#C0479D"/>
<path d="M1230.75 1698L1307 1668.5L1399.5 1686.5L1316.25 1704Z" fill="#FB6A4A" fill-opacity="0.4" stroke="#FB6A4A" stroke-opacity="0.5" stroke-width="2.8" stroke-linejoin="round"/>
<path d="M1351.75 1547.75L1400.75 1539.75L1433.75 1567.75L1386.25 1586.5Z" fill="#E31A1C" fill-opacity="0.4" stroke="#E31A1C" stroke-opacity="0.5" stroke-width="2.8" stroke-linejoin="round"/>
<path d="M1420 1571.5L1467.5 1552.25L1500 1574.75L1462.5 1575.5Z" fill="#9ECAE1" fill-opacity="0.4" stroke="#9ECAE1" stroke-opacity="0.5" stroke-width="2.8" stroke-linejoin="round"/>
<path d="M1318 1500.25L1335.5 1464L1393.75 1498L1400 1528.5L1329.25 1526.75Z" fill="#6BAED6" fill-opacity="0.4" stroke="#6BAED6" stroke-opacity="0.5" stroke-width="2.8" stroke-linejoin="round"/>
<path d="M1387 1694.25L1501.25 1614L1532.5 1643Z" fill="#2171B5" fill-opacity="0.4" stroke="#2171B5" stroke-opacity="0.5" stroke-width="2.8" stroke-linejoin="round"/>
<path d="M1414.25 1609L1423 1525.5L1470 1534L1475.75 1592.25L1427 1631.5Z" fill="#B15928" fill-opacity="0.4" stroke="#B15928" stroke-opacity="0.5" stroke-width="2.8" stroke-linejoin="round"/>
<path d="M1483 1581.75L1539.5 1564L1560.5 1579.75L1504.25 1612.75Z" fill="#F0E442" fill-opacity="0.4" stroke="#F0E442" stroke-opacity="0.5" stroke-width="2.8" stroke-linejoin="round"/>
<path d="M1446.25 1474L1552.5 1425.5L1538.75 1477.25L1514.25 1499.75L1482.5 1521Z" fill="#BCBDDC" fill-opacity="0.4" stroke="#BCBDDC" stroke-opacity="0.5" stroke-width="2.8" stroke-linejoin="round"/>
<path d="M1535.5 1488L1538 1443.5L1576.25 1452.75L1545 1503.5Z" fill="#8C6BB1" fill-opacity="0.4" stroke="#8C6BB1" stroke-opacity="0.5" stroke-width="2.8" stroke-linejoin="round"/>
<path d="M1380 1521.5L1488.25 1466.75L1483.75 1520.25L1419.25 1576Z" fill="#984EA3" fill-opacity="0.4" stroke="#984EA3" stroke-opacity="0.5" stroke-width="2.8" stroke-linejoin="round"/>
<path d="M1338.75 1547.75L1362.5 1509.75L1388 1478.5L1423.75 1519.75Z" fill="#C7E9C0" fill-opacity="0.4" stroke="#C7E9C0" stroke-opacity="0.5" stroke-width="2.8" stroke-linejoin="round"/>
<path d="M1418.75 1427.75L1513 1401L1575.5 1403.5L1530 1420.5L1430.75 1429Z" fill="#A1D99B" fill-opacity="0.4" stroke="#A1D99B" stroke-opacity="0.5" stroke-width="2.8" stroke-linejoin="round"/>
<path d="M1337.5 1372.25L1406.25 1386.75L1430 1450.25L1413 1449.75L1347 1424Z" fill="#74C476" fill-opacity="0.4" stroke="#74C476" stroke-opacity="0.5" stroke-width="2.8" stroke-linejoin="round"/>
<path d="M1196.75 1546L1251.25 1514L1256.25 1539.75L1250.75 1562.75Z" fill="#4DAF4A" fill-opacity="0.4" stroke="#4DAF4A" stroke-opacity="0.5" stroke-width="2.8" stroke-linejoin="round"/>
<path d="M1194.25 1407.25L1242.5 1369L1296.25 1393.5L1333.75 1425.5L1215.5 1461Z" fill="#FDAE6B" fill-opacity="0.4" stroke="#FDAE6B" stroke-opacity="0.5" stroke-width="2.8" stroke-linejoin="round"/>
<path d="M1545.75 1370.25L1627.5 1346.75L1702 1379.25L1632 1423.5Z" fill="#FF7F00" fill-opacity="0.4" stroke="#FF7F00" stroke-opacity="0.5" stroke-width="2.8" stroke-linejoin="round"/>
<path d="M1216.25 1390.25L1272.5 1361L1273.75 1378.5L1240.75 1454.25Z" fill="#FCC5C0" fill-opacity="0.4" stroke="#FCC5C0" stroke-opacity="0.5" stroke-width="2.8" stroke-linejoin="round"/>
<path d="M1273.25 1410.25L1361.25 1356L1345.75 1406L1333.75 1425.5Z" fill="#FA9FB5" fill-opacity="0.4" stroke="#FA9FB5" stroke-opacity="0.5" stroke-width="2.8" stroke-linejoin="round"/>
<path d="M1425.75 1502.75L1486.25 1519.75L1518 1556.75L1493.75 1568.5L1466.25 1563.5Z" fill="#F781BF" fill-opacity="0.4" stroke="#F781BF" stroke-opacity="0.5" stroke-width="2.8" stroke-linejoin="round"/>
<path d="M1279.5 1421.5L1363.25 1431.5L1317.5 1448.5Z" fill="#C0479D" fill-opacity="0.4" stroke="#C0479D" stroke-opacity="0.5" stroke-width="2.8" stroke-linejoin="round"/>
<rect x="1100" y="1255.5" width="621.5" height="489.9" fill="none" stroke="#000" stroke-width="3.3"/>
<text x="1762.8" y="370.6" font-size="20.9" font-weight="bold" fill="#E31A1C">Desert steppe</text>
<circle cx="1771" cy="401.8" r="7" fill="#FB6A4A" stroke="#000" stroke-width="1.3"/>
<text x="1788" y="407.2" font-size="20.8"><tspan font-style="italic">S. breviflora</tspan>_1351 m</text>
<circle cx="1771" cy="439.1" r="7" fill="#E31A1C" stroke="#000" stroke-width="1.3"/>
<text x="1788" y="444.5" font-size="20.8"><tspan font-style="italic">C. stenophylla</tspan>_1458 m</text>
<text x="1762.8" y="487.4" font-size="20.9" font-weight="bold" fill="#2171B5" textLength="279.3" lengthAdjust="spacingAndGlyphs">Shallow mountain shrubland</text>
<circle cx="1771" cy="515.6" r="7" fill="#9ECAE1" stroke="#000" stroke-width="1.3"/>
<text x="1788" y="521" font-size="20.8"><tspan font-style="italic">E. rhytidosperma</tspan>_1464 m</text>
<circle cx="1771" cy="552.3" r="7" fill="#6BAED6" stroke="#000" stroke-width="1.3"/>
<text x="1788" y="557.7" font-size="20.8"><tspan font-style="italic">C. tragacanthoides</tspan>_1785 m</text>
<circle cx="1771" cy="589.4" r="7" fill="#2171B5" stroke="#000" stroke-width="1.3"/>
<text x="1788" y="594.8" font-size="20.8"><tspan font-style="italic">P. mongolica</tspan>_1814 m</text>
<text x="1762.8" y="637.4" font-size="20.9" font-weight="bold" fill="#B15928">Broad-leaved forest</text>
<circle cx="1771" cy="665.3" r="7" fill="#B15928" stroke="#000" stroke-width="1.3"/>
<text x="1788" y="670.7" font-size="20.8"><tspan font-style="italic">U. glaucescens</tspan>_1562 m</text>
<text x="1762.8" y="713.4" font-size="20.9" font-weight="bold" fill="#DDCB28">Temperate coniferous forest</text>
<circle cx="1771" cy="745.1" r="7" fill="#F0E442" stroke="#000" stroke-width="1.3"/>
<text x="1788" y="750.5" font-size="20.8"><tspan font-style="italic">P. tabuliformis</tspan>_2096 m</text>
<text x="1762.8" y="793.7" font-size="20.9" font-weight="bold" fill="#984EA3" textLength="288" lengthAdjust="spacingAndGlyphs">Mixed broadleaf-conifer forest</text>
<circle cx="1771" cy="821" r="7" fill="#BCBDDC" stroke="#000" stroke-width="1.3"/>
<text x="1788" y="826.4" font-size="20.8"><tspan font-style="italic">P. davidiana</tspan>_2112 m</text>
<circle cx="1771" cy="858.2" r="7" fill="#8C6BB1" stroke="#000" stroke-width="1.3"/>
<text x="1788" y="863.6" font-size="20.8"><tspan font-style="italic">J. rigida</tspan>_2112 m</text>
<circle cx="1771" cy="895.1" r="7" fill="#984EA3" stroke="#000" stroke-width="1.3"/>
<text x="1788" y="900.5" font-size="20.8"><tspan font-style="italic">P. crassifolia</tspan>_2112 m</text>
<text x="1762.8" y="943.3" font-size="20.9" font-weight="bold" fill="#4DAF4A">Dark coniferous forest</text>
<circle cx="1771" cy="971.5" r="7" fill="#C7E9C0" stroke="#000" stroke-width="1.3"/>
<text x="1788" y="976.9" font-size="20.8"><tspan font-style="italic">P. crassifolia</tspan>_2431 m</text>
<circle cx="1771" cy="1008.2" r="7" fill="#A1D99B" stroke="#000" stroke-width="1.3"/>
<text x="1788" y="1013.6" font-size="20.8"><tspan font-style="italic">P. crassifolia</tspan>_2441 m</text>
<circle cx="1771" cy="1044.9" r="7" fill="#74C476" stroke="#000" stroke-width="1.3"/>
<text x="1788" y="1050.3" font-size="20.8"><tspan font-style="italic">P. crassifolia</tspan>_2677 m</text>
<circle cx="1771" cy="1081.8" r="7" fill="#4DAF4A" stroke="#000" stroke-width="1.3"/>
<text x="1788" y="1087.2" font-size="20.8"><tspan font-style="italic">P. crassifolia</tspan>_2939 m</text>
<text x="1762.8" y="1129.7" font-size="20.9" font-weight="bold" fill="#FF7F00">Subalpine shrub</text>
<circle cx="1771" cy="1161.6" r="7" fill="#FDAE6B" stroke="#000" stroke-width="1.3"/>
<text x="1789.2" y="1167" font-size="20.8"><tspan font-style="italic">A. cristatum</tspan>_2596 m</text>
<circle cx="1771" cy="1198.3" r="7" fill="#FF7F00" stroke="#000" stroke-width="1.3"/>
<text x="1788" y="1203.7" font-size="20.8"><tspan font-style="italic">D. glabra</tspan>_2596 m</text>
<text x="1764.0" y="1246.3" font-size="20.9" font-weight="bold" fill="#C0479D">Alpine meadow</text>
<circle cx="1771" cy="1278" r="7" fill="#FCC5C0" stroke="#000" stroke-width="1.3"/>
<text x="1788" y="1283.4" font-size="20.8"><tspan font-style="italic">C. coninux</tspan>_2896 m</text>
<circle cx="1771" cy="1315" r="7" fill="#FA9FB5" stroke="#000" stroke-width="1.3"/>
<text x="1788" y="1320.4" font-size="20.8"><tspan font-style="italic">D. parvifolia</tspan>_2919 m</text>
<circle cx="1771" cy="1352.1" r="7" fill="#F781BF" stroke="#000" stroke-width="1.3"/>
<text x="1788" y="1357.5" font-size="20.8"><tspan font-style="italic">C. myosuroides</tspan>_2946 m</text>
<circle cx="1771" cy="1388.9" r="7" fill="#C0479D" stroke="#000" stroke-width="1.3"/>
<text x="1788" y="1394.3" font-size="20.8"><tspan font-style="italic">C. jubata</tspan>_3537 m</text>
</svg>
</body></html>
